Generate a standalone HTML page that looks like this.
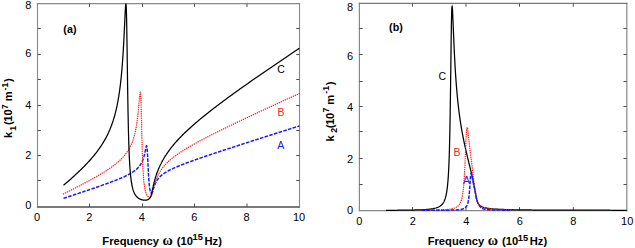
<!DOCTYPE html>
<html><head><meta charset="utf-8"><style>
html,body{margin:0;padding:0;background:#fff;}
svg{display:block;}
text{font-family:"Liberation Sans",sans-serif;}
.t{font-size:11px;fill:#000;}
.b{font-size:11.5px;font-weight:bold;fill:#000;}
.lab{font-size:10.5px;}
</style></head><body>
<svg width="635" height="248" viewBox="0 0 635 248">
<rect width="635" height="248" fill="#fff"/>
<clipPath id="cl"><rect x="36.30" y="3.60" width="264.00" height="205.30"/></clipPath>
<line x1="37.50" y1="3.05" x2="37.50" y2="207.90" stroke="#888" stroke-width="1.10"/>
<line x1="299.50" y1="3.05" x2="299.50" y2="207.90" stroke="#888" stroke-width="1.10"/>
<line x1="36.95" y1="3.70" x2="300.05" y2="3.70" stroke="#888" stroke-width="1.30"/>
<line x1="36.95" y1="207.00" x2="300.05" y2="207.00" stroke="#7a7a7a" stroke-width="1.80"/>
<line x1="89.50" y1="207.00" x2="89.50" y2="203.50" stroke="#505050" stroke-width="1.00"/>
<line x1="89.50" y1="3.70" x2="89.50" y2="7.00" stroke="#505050" stroke-width="1.00"/>
<line x1="142.50" y1="207.00" x2="142.50" y2="203.50" stroke="#505050" stroke-width="1.00"/>
<line x1="142.50" y1="3.70" x2="142.50" y2="7.00" stroke="#505050" stroke-width="1.00"/>
<line x1="194.50" y1="207.00" x2="194.50" y2="203.50" stroke="#505050" stroke-width="1.00"/>
<line x1="194.50" y1="3.70" x2="194.50" y2="7.00" stroke="#505050" stroke-width="1.00"/>
<line x1="247.00" y1="207.00" x2="247.00" y2="203.50" stroke="#505050" stroke-width="1.00"/>
<line x1="247.00" y1="3.70" x2="247.00" y2="7.00" stroke="#505050" stroke-width="1.00"/>
<line x1="37.50" y1="180.50" x2="40.80" y2="180.50" stroke="#505050" stroke-width="1.00"/>
<line x1="299.50" y1="180.50" x2="296.20" y2="180.50" stroke="#505050" stroke-width="1.00"/>
<line x1="37.50" y1="155.50" x2="40.80" y2="155.50" stroke="#505050" stroke-width="1.00"/>
<line x1="299.50" y1="155.50" x2="296.20" y2="155.50" stroke="#505050" stroke-width="1.00"/>
<line x1="37.50" y1="130.50" x2="40.80" y2="130.50" stroke="#505050" stroke-width="1.00"/>
<line x1="299.50" y1="130.50" x2="296.20" y2="130.50" stroke="#505050" stroke-width="1.00"/>
<line x1="37.50" y1="105.50" x2="40.80" y2="105.50" stroke="#505050" stroke-width="1.00"/>
<line x1="299.50" y1="105.50" x2="296.20" y2="105.50" stroke="#505050" stroke-width="1.00"/>
<line x1="37.50" y1="79.50" x2="40.80" y2="79.50" stroke="#505050" stroke-width="1.00"/>
<line x1="299.50" y1="79.50" x2="296.20" y2="79.50" stroke="#505050" stroke-width="1.00"/>
<line x1="37.50" y1="54.50" x2="40.80" y2="54.50" stroke="#505050" stroke-width="1.00"/>
<line x1="299.50" y1="54.50" x2="296.20" y2="54.50" stroke="#505050" stroke-width="1.00"/>
<line x1="37.50" y1="28.50" x2="40.80" y2="28.50" stroke="#505050" stroke-width="1.00"/>
<line x1="299.50" y1="28.50" x2="296.20" y2="28.50" stroke="#505050" stroke-width="1.00"/>
<clipPath id="cr"><rect x="358.30" y="3.60" width="269.40" height="208.75"/></clipPath>
<line x1="359.40" y1="2.75" x2="359.40" y2="211.30" stroke="#888" stroke-width="1.20"/>
<line x1="626.80" y1="2.75" x2="626.80" y2="211.30" stroke="#999" stroke-width="1.40"/>
<line x1="358.80" y1="3.40" x2="627.50" y2="3.40" stroke="#777" stroke-width="1.30"/>
<line x1="358.80" y1="210.60" x2="627.50" y2="210.60" stroke="#888" stroke-width="1.40"/>
<line x1="412.50" y1="210.60" x2="412.50" y2="207.10" stroke="#505050" stroke-width="1.00"/>
<line x1="412.50" y1="3.40" x2="412.50" y2="6.70" stroke="#505050" stroke-width="1.00"/>
<line x1="466.00" y1="210.60" x2="466.00" y2="207.10" stroke="#505050" stroke-width="1.00"/>
<line x1="466.00" y1="3.40" x2="466.00" y2="6.70" stroke="#505050" stroke-width="1.00"/>
<line x1="519.50" y1="210.60" x2="519.50" y2="207.10" stroke="#505050" stroke-width="1.00"/>
<line x1="519.50" y1="3.40" x2="519.50" y2="6.70" stroke="#505050" stroke-width="1.00"/>
<line x1="573.30" y1="210.60" x2="573.30" y2="207.10" stroke="#505050" stroke-width="1.00"/>
<line x1="573.30" y1="3.40" x2="573.30" y2="6.70" stroke="#505050" stroke-width="1.00"/>
<line x1="359.40" y1="184.50" x2="362.70" y2="184.50" stroke="#505050" stroke-width="1.00"/>
<line x1="626.80" y1="184.50" x2="623.50" y2="184.50" stroke="#505050" stroke-width="1.00"/>
<line x1="359.40" y1="158.50" x2="362.70" y2="158.50" stroke="#505050" stroke-width="1.00"/>
<line x1="626.80" y1="158.50" x2="623.50" y2="158.50" stroke="#505050" stroke-width="1.00"/>
<line x1="359.40" y1="131.50" x2="362.70" y2="131.50" stroke="#505050" stroke-width="1.00"/>
<line x1="626.80" y1="131.50" x2="623.50" y2="131.50" stroke="#505050" stroke-width="1.00"/>
<line x1="359.40" y1="106.50" x2="362.70" y2="106.50" stroke="#505050" stroke-width="1.00"/>
<line x1="626.80" y1="106.50" x2="623.50" y2="106.50" stroke="#505050" stroke-width="1.00"/>
<line x1="359.40" y1="81.50" x2="362.70" y2="81.50" stroke="#505050" stroke-width="1.00"/>
<line x1="626.80" y1="81.50" x2="623.50" y2="81.50" stroke="#505050" stroke-width="1.00"/>
<line x1="359.40" y1="54.50" x2="362.70" y2="54.50" stroke="#505050" stroke-width="1.00"/>
<line x1="626.80" y1="54.50" x2="623.50" y2="54.50" stroke="#505050" stroke-width="1.00"/>
<line x1="359.40" y1="28.50" x2="362.70" y2="28.50" stroke="#505050" stroke-width="1.00"/>
<line x1="626.80" y1="28.50" x2="623.50" y2="28.50" stroke="#505050" stroke-width="1.00"/>
<g clip-path="url(#cl)"><path d="M63.50,198.34 L64.39,198.05 L65.28,197.75 L66.16,197.46 L67.05,197.17 L67.94,196.88 L68.83,196.58 L69.72,196.29 L70.61,196.00 L71.49,195.70 L72.38,195.41 L73.27,195.12 L74.16,194.82 L75.05,194.53 L75.93,194.23 L76.82,193.94 L77.71,193.64 L78.60,193.35 L79.49,193.05 L80.37,192.75 L81.26,192.46 L82.15,192.16 L83.04,191.86 L83.93,191.56 L84.82,191.26 L85.70,190.96 L86.59,190.66 L87.48,190.36 L88.37,190.06 L89.26,189.76 L90.14,189.46 L91.03,189.16 L91.92,188.85 L92.81,188.55 L93.70,188.24 L94.58,187.94 L95.47,187.63 L96.36,187.32 L97.25,187.02 L98.14,186.71 L99.03,186.40 L99.91,186.08 L100.80,185.77 L101.69,185.46 L102.58,185.14 L103.47,184.83 L104.35,184.51 L105.24,184.19 L106.13,183.87 L107.02,183.54 L107.91,183.22 L108.79,182.89 L109.68,182.56 L110.57,182.23 L111.46,181.90 L112.35,181.56 L113.24,181.22 L114.12,180.88 L115.01,180.54 L115.90,180.19 L115.99,180.15 L116.07,180.12 L116.16,180.08 L116.25,180.05 L116.34,180.01 L116.42,179.98 L116.51,179.94 L116.60,179.91 L116.69,179.87 L116.77,179.84 L116.86,179.80 L116.95,179.77 L117.04,179.73 L117.12,179.70 L117.21,179.66 L117.30,179.63 L117.39,179.59 L117.47,179.56 L117.56,179.52 L117.65,179.49 L117.74,179.45 L117.82,179.42 L117.91,179.38 L118.00,179.35 L118.09,179.31 L118.17,179.27 L118.26,179.24 L118.35,179.20 L118.44,179.17 L118.52,179.13 L118.61,179.10 L118.70,179.06 L118.79,179.02 L118.87,178.99 L118.96,178.95 L119.05,178.92 L119.14,178.88 L119.22,178.84 L119.31,178.81 L119.40,178.77 L119.49,178.73 L119.57,178.70 L119.66,178.66 L119.75,178.62 L119.84,178.59 L119.92,178.55 L120.01,178.51 L120.10,178.48 L120.19,178.44 L120.27,178.40 L120.36,178.37 L120.45,178.33 L120.54,178.29 L120.62,178.26 L120.71,178.22 L120.80,178.18 L120.89,178.14 L120.97,178.11 L121.06,178.07 L121.15,178.03 L121.24,177.99 L121.32,177.96 L121.41,177.92 L121.50,177.88 L121.59,177.84 L121.67,177.81 L121.76,177.77 L121.85,177.73 L121.94,177.69 L122.02,177.65 L122.11,177.62 L122.20,177.58 L122.29,177.54 L122.37,177.50 L122.46,177.46 L122.55,177.42 L122.64,177.39 L122.72,177.35 L122.81,177.31 L122.90,177.27 L122.99,177.23 L123.07,177.19 L123.16,177.15 L123.25,177.11 L123.34,177.07 L123.42,177.03 L123.51,176.99 L123.60,176.96 L123.69,176.92 L123.77,176.88 L123.86,176.84 L123.95,176.80 L124.04,176.76 L124.12,176.72 L124.21,176.68 L124.30,176.64 L124.39,176.60 L124.47,176.56 L124.56,176.51 L124.65,176.47 L124.74,176.43 L124.82,176.39 L124.91,176.35 L125.00,176.31 L125.09,176.27 L125.17,176.23 L125.26,176.19 L125.35,176.15 L125.44,176.10 L125.52,176.06 L125.61,176.02 L125.70,175.98 L125.79,175.94 L125.87,175.90 L125.96,175.85 L126.05,175.81 L126.14,175.77 L126.22,175.73 L126.31,175.68 L126.40,175.64 L126.48,175.60 L126.57,175.56 L126.66,175.51 L126.75,175.47 L126.83,175.43 L126.92,175.38 L127.01,175.34 L127.10,175.30 L127.18,175.25 L127.27,175.21 L127.36,175.16 L127.45,175.12 L127.53,175.08 L127.62,175.03 L127.71,174.99 L127.80,174.94 L127.88,174.90 L127.97,174.85 L128.06,174.81 L128.15,174.76 L128.23,174.72 L128.32,174.67 L128.41,174.62 L128.50,174.58 L128.58,174.53 L128.67,174.49 L128.76,174.44 L128.85,174.39 L128.93,174.35 L129.02,174.30 L129.11,174.25 L129.20,174.20 L129.28,174.16 L129.37,174.11 L129.46,174.06 L129.55,174.01 L129.63,173.96 L129.72,173.92 L129.81,173.87 L129.90,173.82 L129.98,173.77 L130.07,173.72 L130.16,173.67 L130.25,173.62 L130.33,173.57 L130.42,173.52 L130.51,173.47 L130.60,173.42 L130.68,173.37 L130.77,173.32 L130.86,173.27 L130.95,173.22 L131.03,173.17 L131.12,173.11 L131.21,173.06 L131.30,173.01 L131.38,172.96 L131.47,172.90 L131.56,172.85 L131.65,172.80 L131.73,172.74 L131.82,172.69 L131.91,172.64 L132.00,172.58 L132.08,172.53 L132.17,172.47 L132.26,172.42 L132.35,172.36 L132.43,172.30 L132.52,172.25 L132.61,172.19 L132.70,172.13 L132.78,172.08 L132.87,172.02 L132.96,171.96 L133.05,171.90 L133.13,171.85 L133.22,171.79 L133.31,171.73 L133.40,171.67 L133.48,171.61 L133.57,171.55 L133.66,171.49 L133.75,171.43 L133.83,171.36 L133.92,171.30 L134.01,171.24 L134.10,171.18 L134.18,171.12 L134.27,171.05 L134.36,170.99 L134.45,170.92 L134.53,170.86 L134.62,170.79 L134.71,170.73 L134.80,170.66 L134.88,170.59 L134.97,170.53 L135.06,170.46 L135.15,170.39 L135.23,170.32 L135.32,170.25 L135.41,170.18 L135.50,170.11 L135.58,170.04 L135.67,169.97 L135.76,169.90 L135.85,169.83 L135.93,169.75 L136.02,169.68 L136.11,169.60 L136.20,169.53 L136.28,169.45 L136.37,169.38 L136.46,169.30 L136.55,169.22 L136.63,169.14 L136.72,169.06 L136.81,168.98 L136.89,168.90 L136.98,168.82 L137.07,168.74 L137.16,168.65 L137.24,168.57 L137.33,168.49 L137.42,168.40 L137.51,168.31 L137.59,168.22 L137.68,168.14 L137.77,168.05 L137.86,167.96 L137.94,167.86 L138.03,167.77 L138.12,167.68 L138.21,167.58 L138.29,167.49 L138.38,167.39 L138.47,167.29 L138.56,167.19 L138.64,167.09 L138.73,166.99 L138.82,166.89 L138.91,166.78 L138.99,166.68 L139.08,166.57 L139.17,166.46 L139.26,166.35 L139.34,166.24 L139.43,166.13 L139.52,166.01 L139.61,165.90 L139.69,165.78 L139.78,165.66 L139.87,165.54 L139.96,165.42 L140.04,165.29 L140.13,165.16 L140.22,165.04 L140.31,164.90 L140.39,164.77 L140.48,164.64 L140.57,164.50 L140.66,164.36 L140.74,164.22 L140.83,164.07 L140.92,163.93 L141.01,163.78 L141.09,163.63 L141.18,163.47 L141.27,163.31 L141.36,163.15 L141.44,162.99 L141.53,162.82 L141.62,162.65 L141.71,162.48 L141.79,162.31 L141.88,162.13 L141.97,161.94 L142.06,161.76 L142.14,161.56 L142.23,161.37 L142.32,161.17 L142.41,160.97 L142.49,160.76 L142.58,160.55 L142.67,160.33 L142.76,160.11 L142.84,159.88 L142.93,159.65 L143.02,159.41 L143.11,159.17 L143.19,158.92 L143.28,158.66 L143.37,158.40 L143.46,158.13 L143.54,157.86 L143.63,157.58 L143.72,157.29 L143.81,157.00 L143.89,156.69 L143.98,156.38 L144.07,156.06 L144.16,155.74 L144.24,155.40 L144.33,155.06 L144.42,154.71 L144.51,154.35 L144.59,153.98 L144.68,153.60 L144.77,153.22 L144.86,152.82 L144.94,152.42 L145.03,152.01 L145.12,151.59 L145.21,151.17 L145.29,150.74 L145.38,150.30 L145.47,149.87 L145.56,149.43 L145.64,148.99 L145.73,148.56 L145.82,148.14 L145.91,147.73 L145.99,147.34 L146.08,146.97 L146.17,146.64 L146.26,146.35 L146.34,146.11 L146.43,145.93 L146.52,145.83 L146.61,145.82 L146.69,145.92 L146.78,146.14 L146.87,146.50 L146.96,147.01 L147.04,147.68 L147.13,148.53 L147.22,149.55 L147.31,150.75 L147.39,152.12 L147.48,153.64 L147.57,155.29 L147.65,157.06 L147.74,158.90 L147.83,160.79 L147.92,162.71 L148.00,164.63 L148.09,166.52 L148.18,168.36 L148.27,170.14 L148.35,171.85 L148.44,173.48 L148.53,175.02 L148.62,176.47 L148.70,177.83 L148.79,179.11 L148.88,180.30 L148.97,181.41 L149.05,182.45 L149.14,183.41 L149.23,184.30 L149.32,185.13 L149.40,185.90 L149.49,186.61 L149.58,187.27 L149.67,187.88 L149.75,188.44 L149.84,188.97 L149.93,189.45 L150.02,189.89 L150.10,190.30 L150.19,190.68 L150.28,191.02 L150.37,191.34 L150.45,191.62 L150.54,191.88 L150.63,192.12 L150.72,192.32 L150.80,192.51 L150.89,192.67 L150.98,192.81 L151.07,192.92 L151.15,193.01 L151.24,193.09 L151.33,193.13 L151.42,193.16 L151.50,193.17 L151.59,193.15 L151.68,193.11 L151.77,193.05 L151.85,192.97 L151.94,192.86 L152.03,192.74 L152.12,192.59 L152.20,192.42 L152.29,192.24 L152.38,192.04 L152.47,191.82 L152.55,191.58 L152.64,191.33 L152.73,191.07 L152.82,190.80 L152.90,190.53 L152.99,190.24 L153.08,189.96 L153.17,189.67 L153.25,189.38 L153.34,189.09 L153.43,188.80 L153.52,188.51 L153.60,188.22 L153.69,187.94 L153.78,187.66 L153.87,187.39 L153.95,187.12 L154.04,186.85 L154.13,186.59 L154.22,186.34 L154.30,186.09 L154.39,185.84 L154.48,185.60 L154.57,185.37 L154.65,185.14 L154.74,184.91 L154.83,184.69 L154.92,184.47 L155.00,184.26 L155.09,184.05 L155.18,183.85 L155.27,183.65 L155.35,183.46 L155.44,183.27 L155.53,183.08 L155.62,182.89 L155.70,182.71 L155.79,182.54 L155.88,182.36 L155.97,182.19 L156.05,182.03 L156.14,181.86 L156.23,181.70 L156.32,181.55 L156.40,181.39 L156.49,181.24 L156.58,181.09 L156.67,180.94 L156.75,180.80 L156.84,180.66 L156.93,180.52 L157.02,180.38 L157.10,180.25 L157.19,180.11 L157.28,179.98 L157.37,179.85 L157.45,179.73 L157.54,179.60 L157.63,179.48 L157.72,179.36 L157.80,179.24 L157.89,179.12 L157.98,179.00 L158.06,178.89 L158.15,178.78 L158.24,178.67 L158.33,178.56 L158.41,178.45 L158.50,178.34 L158.59,178.24 L158.68,178.13 L158.76,178.03 L158.85,177.93 L158.94,177.83 L159.03,177.73 L159.11,177.63 L159.20,177.53 L159.29,177.44 L159.38,177.34 L159.46,177.25 L159.55,177.16 L159.64,177.07 L159.73,176.98 L159.81,176.89 L159.90,176.80 L159.99,176.71 L160.08,176.62 L160.16,176.54 L160.25,176.45 L160.34,176.37 L160.43,176.29 L160.51,176.21 L160.60,176.12 L160.69,176.04 L160.78,175.96 L160.86,175.88 L160.95,175.81 L161.04,175.73 L161.13,175.65 L161.21,175.58 L161.30,175.50 L161.39,175.42 L161.48,175.35 L161.56,175.28 L161.65,175.20 L161.74,175.13 L161.83,175.06 L161.91,174.99 L162.00,174.92 L162.09,174.85 L162.18,174.78 L162.26,174.71 L162.35,174.64 L162.44,174.57 L162.53,174.51 L162.61,174.44 L162.70,174.37 L162.79,174.31 L162.88,174.24 L162.96,174.18 L163.05,174.11 L163.14,174.05 L163.23,173.98 L163.31,173.92 L163.40,173.86 L163.49,173.79 L163.58,173.73 L163.66,173.67 L163.75,173.61 L163.84,173.55 L163.93,173.49 L164.01,173.43 L164.10,173.37 L164.19,173.31 L164.28,173.25 L164.36,173.19 L164.45,173.13 L164.54,173.08 L164.63,173.02 L164.71,172.96 L164.80,172.90 L164.89,172.85 L164.98,172.79 L165.06,172.74 L165.15,172.68 L165.24,172.62 L165.33,172.57 L165.41,172.51 L165.50,172.46 L165.59,172.41 L165.68,172.35 L165.76,172.30 L165.85,172.24 L165.94,172.19 L166.03,172.14 L166.11,172.09 L166.20,172.03 L166.29,171.98 L166.38,171.93 L166.46,171.88 L166.55,171.83 L166.64,171.77 L166.73,171.72 L166.81,171.67 L166.90,171.62 L166.99,171.57 L167.08,171.52 L167.16,171.47 L167.25,171.42 L167.34,171.37 L167.43,171.32 L167.51,171.28 L167.60,171.23 L167.69,171.18 L167.78,171.13 L167.86,171.08 L167.95,171.03 L168.04,170.99 L168.13,170.94 L168.21,170.89 L168.30,170.84 L169.40,170.26 L170.50,169.70 L171.60,169.17 L172.70,168.65 L173.80,168.14 L174.91,167.65 L176.01,167.17 L177.11,166.71 L178.21,166.25 L179.31,165.80 L180.41,165.35 L181.51,164.91 L182.61,164.48 L183.71,164.06 L184.81,163.64 L185.91,163.22 L187.01,162.81 L188.12,162.40 L189.22,162.00 L190.32,161.59 L191.42,161.20 L192.52,160.80 L193.62,160.41 L194.72,160.02 L195.82,159.63 L196.92,159.24 L198.02,158.85 L199.12,158.47 L200.22,158.09 L201.33,157.71 L202.43,157.33 L203.53,156.95 L204.63,156.58 L205.73,156.20 L206.83,155.83 L207.93,155.46 L209.03,155.09 L210.13,154.72 L211.23,154.35 L212.33,153.98 L213.43,153.61 L214.54,153.24 L215.64,152.88 L216.74,152.51 L217.84,152.15 L218.94,151.78 L220.04,151.42 L221.14,151.05 L222.24,150.69 L223.34,150.33 L224.44,149.97 L225.54,149.61 L226.64,149.25 L227.75,148.89 L228.85,148.53 L229.95,148.17 L231.05,147.81 L232.15,147.45 L233.25,147.09 L234.35,146.74 L235.45,146.38 L236.55,146.02 L237.65,145.67 L238.75,145.31 L239.85,144.95 L240.96,144.60 L242.06,144.24 L243.16,143.89 L244.26,143.53 L245.36,143.18 L246.46,142.82 L247.56,142.47 L248.66,142.11 L249.76,141.76 L250.86,141.41 L251.96,141.05 L253.06,140.70 L254.17,140.35 L255.27,139.99 L256.37,139.64 L257.47,139.29 L258.57,138.94 L259.67,138.58 L260.77,138.23 L261.87,137.88 L262.97,137.53 L264.07,137.18 L265.17,136.83 L266.27,136.48 L267.38,136.12 L268.48,135.77 L269.58,135.42 L270.68,135.07 L271.78,134.72 L272.88,134.37 L273.98,134.02 L275.08,133.67 L276.18,133.32 L277.28,132.97 L278.38,132.62 L279.48,132.27 L280.59,131.92 L281.69,131.57 L282.79,131.22 L283.89,130.87 L284.99,130.52 L286.09,130.17 L287.19,129.82 L288.29,129.48 L289.39,129.13 L290.49,128.78 L291.59,128.43 L292.69,128.08 L293.80,127.73 L294.90,127.38 L296.00,127.03 L297.10,126.69 L298.20,126.34 L299.30,125.99" stroke="#1a1aff" stroke-width="1.5" fill="none" stroke-dasharray="3.6 1.3"/>
<path d="M63.50,193.96 L64.39,193.51 L65.28,193.07 L66.16,192.62 L67.05,192.17 L67.94,191.73 L68.83,191.28 L69.72,190.83 L70.61,190.38 L71.49,189.93 L72.38,189.47 L73.27,189.02 L74.16,188.57 L75.05,188.11 L75.93,187.65 L76.82,187.20 L77.71,186.74 L78.60,186.28 L79.49,185.81 L80.37,185.35 L81.26,184.89 L82.15,184.42 L83.04,183.95 L83.93,183.48 L84.82,183.01 L85.70,182.53 L86.59,182.06 L87.48,181.58 L88.37,181.10 L89.26,180.61 L90.14,180.13 L91.03,179.64 L91.92,179.15 L92.81,178.65 L93.70,178.16 L94.58,177.65 L95.47,177.15 L96.36,176.64 L97.25,176.13 L98.14,175.61 L99.03,175.09 L99.91,174.57 L100.80,174.04 L101.69,173.50 L102.58,172.96 L103.47,172.41 L104.35,171.86 L105.24,171.29 L106.13,170.73 L107.02,170.15 L107.91,169.56 L108.79,168.97 L109.68,168.36 L110.57,167.75 L111.46,167.12 L112.35,166.48 L113.24,165.82 L114.12,165.15 L115.01,164.46 L115.90,163.76 L115.99,163.69 L116.07,163.62 L116.16,163.55 L116.25,163.47 L116.34,163.40 L116.42,163.33 L116.51,163.26 L116.60,163.19 L116.69,163.12 L116.77,163.04 L116.86,162.97 L116.95,162.90 L117.04,162.83 L117.12,162.75 L117.21,162.68 L117.30,162.60 L117.39,162.53 L117.47,162.46 L117.56,162.38 L117.65,162.31 L117.74,162.23 L117.82,162.16 L117.91,162.08 L118.00,162.01 L118.09,161.93 L118.17,161.85 L118.26,161.78 L118.35,161.70 L118.44,161.62 L118.52,161.55 L118.61,161.47 L118.70,161.39 L118.79,161.31 L118.87,161.24 L118.96,161.16 L119.05,161.08 L119.14,161.00 L119.22,160.92 L119.31,160.84 L119.40,160.76 L119.49,160.68 L119.57,160.60 L119.66,160.52 L119.75,160.44 L119.84,160.36 L119.92,160.27 L120.01,160.19 L120.10,160.11 L120.19,160.03 L120.27,159.94 L120.36,159.86 L120.45,159.78 L120.54,159.69 L120.62,159.61 L120.71,159.52 L120.80,159.44 L120.89,159.35 L120.97,159.27 L121.06,159.18 L121.15,159.10 L121.24,159.01 L121.32,158.92 L121.41,158.83 L121.50,158.75 L121.59,158.66 L121.67,158.57 L121.76,158.48 L121.85,158.39 L121.94,158.30 L122.02,158.21 L122.11,158.12 L122.20,158.03 L122.29,157.93 L122.37,157.84 L122.46,157.75 L122.55,157.66 L122.64,157.56 L122.72,157.47 L122.81,157.38 L122.90,157.28 L122.99,157.18 L123.07,157.09 L123.16,156.99 L123.25,156.90 L123.34,156.80 L123.42,156.70 L123.51,156.60 L123.60,156.50 L123.69,156.40 L123.77,156.30 L123.86,156.20 L123.95,156.10 L124.04,156.00 L124.12,155.90 L124.21,155.80 L124.30,155.69 L124.39,155.59 L124.47,155.48 L124.56,155.38 L124.65,155.27 L124.74,155.17 L124.82,155.06 L124.91,154.95 L125.00,154.84 L125.09,154.74 L125.17,154.63 L125.26,154.52 L125.35,154.41 L125.44,154.29 L125.52,154.18 L125.61,154.07 L125.70,153.95 L125.79,153.84 L125.87,153.72 L125.96,153.61 L126.05,153.49 L126.14,153.37 L126.22,153.26 L126.31,153.14 L126.40,153.02 L126.48,152.90 L126.57,152.77 L126.66,152.65 L126.75,152.53 L126.83,152.40 L126.92,152.28 L127.01,152.15 L127.10,152.03 L127.18,151.90 L127.27,151.77 L127.36,151.64 L127.45,151.51 L127.53,151.37 L127.62,151.24 L127.71,151.11 L127.80,150.97 L127.88,150.84 L127.97,150.70 L128.06,150.56 L128.15,150.42 L128.23,150.28 L128.32,150.14 L128.41,150.00 L128.50,149.85 L128.58,149.70 L128.67,149.56 L128.76,149.41 L128.85,149.26 L128.93,149.11 L129.02,148.96 L129.11,148.80 L129.20,148.65 L129.28,148.49 L129.37,148.33 L129.46,148.17 L129.55,148.01 L129.63,147.85 L129.72,147.69 L129.81,147.52 L129.90,147.35 L129.98,147.18 L130.07,147.01 L130.16,146.84 L130.25,146.67 L130.33,146.49 L130.42,146.31 L130.51,146.13 L130.60,145.95 L130.68,145.77 L130.77,145.58 L130.86,145.39 L130.95,145.20 L131.03,145.01 L131.12,144.82 L131.21,144.62 L131.30,144.42 L131.38,144.22 L131.47,144.02 L131.56,143.81 L131.65,143.60 L131.73,143.39 L131.82,143.18 L131.91,142.96 L132.00,142.74 L132.08,142.52 L132.17,142.29 L132.26,142.07 L132.35,141.83 L132.43,141.60 L132.52,141.36 L132.61,141.12 L132.70,140.88 L132.78,140.63 L132.87,140.38 L132.96,140.13 L133.05,139.87 L133.13,139.61 L133.22,139.34 L133.31,139.07 L133.40,138.80 L133.48,138.52 L133.57,138.24 L133.66,137.95 L133.75,137.66 L133.83,137.37 L133.92,137.07 L134.01,136.76 L134.10,136.45 L134.18,136.13 L134.27,135.81 L134.36,135.49 L134.45,135.16 L134.53,134.82 L134.62,134.47 L134.71,134.12 L134.80,133.77 L134.88,133.40 L134.97,133.03 L135.06,132.66 L135.15,132.27 L135.23,131.88 L135.32,131.48 L135.41,131.08 L135.50,130.66 L135.58,130.24 L135.67,129.81 L135.76,129.37 L135.85,128.92 L135.93,128.46 L136.02,127.99 L136.11,127.51 L136.20,127.02 L136.28,126.52 L136.37,126.01 L136.46,125.48 L136.55,124.95 L136.63,124.40 L136.72,123.84 L136.81,123.27 L136.89,122.68 L136.98,122.08 L137.07,121.47 L137.16,120.84 L137.24,120.19 L137.33,119.53 L137.42,118.85 L137.51,118.16 L137.59,117.45 L137.68,116.72 L137.77,115.97 L137.86,115.20 L137.94,114.42 L138.03,113.62 L138.12,112.79 L138.21,111.95 L138.29,111.09 L138.38,110.21 L138.47,109.30 L138.56,108.38 L138.64,107.45 L138.73,106.49 L138.82,105.52 L138.91,104.53 L138.99,103.54 L139.08,102.53 L139.17,101.52 L139.26,100.50 L139.34,99.50 L139.43,98.50 L139.52,97.53 L139.61,96.58 L139.69,95.68 L139.78,94.84 L139.87,94.06 L139.96,93.39 L140.04,92.82 L140.13,92.40 L140.22,92.14 L140.31,92.09 L140.39,92.26 L140.48,92.68 L140.57,93.40 L140.66,94.44 L140.74,95.81 L140.83,97.53 L140.92,99.60 L141.01,102.01 L141.09,104.75 L141.18,107.78 L141.27,111.06 L141.36,114.54 L141.44,118.17 L141.53,121.88 L141.62,125.62 L141.71,129.36 L141.79,133.03 L141.88,136.61 L141.97,140.07 L142.06,143.39 L142.14,146.56 L142.23,149.56 L142.32,152.40 L142.41,155.07 L142.49,157.58 L142.58,159.94 L142.67,162.14 L142.76,164.21 L142.84,166.14 L142.93,167.94 L143.02,169.62 L143.11,171.20 L143.19,172.67 L143.28,174.05 L143.37,175.34 L143.46,176.55 L143.54,177.68 L143.63,178.74 L143.72,179.74 L143.81,180.68 L143.89,181.56 L143.98,182.39 L144.07,183.18 L144.16,183.91 L144.24,184.61 L144.33,185.27 L144.42,185.89 L144.51,186.48 L144.59,187.04 L144.68,187.57 L144.77,188.07 L144.86,188.55 L144.94,189.00 L145.03,189.43 L145.12,189.84 L145.21,190.23 L145.29,190.60 L145.38,190.95 L145.47,191.29 L145.56,191.61 L145.64,191.92 L145.73,192.21 L145.82,192.49 L145.91,192.76 L145.99,193.01 L146.08,193.25 L146.17,193.49 L146.26,193.71 L146.34,193.92 L146.43,194.13 L146.52,194.32 L146.61,194.51 L146.69,194.69 L146.78,194.86 L146.87,195.02 L146.96,195.18 L147.04,195.33 L147.13,195.47 L147.22,195.61 L147.31,195.74 L147.39,195.86 L147.48,195.98 L147.57,196.10 L147.65,196.20 L147.74,196.31 L147.83,196.40 L147.92,196.50 L148.00,196.58 L148.09,196.67 L148.18,196.75 L148.27,196.82 L148.35,196.89 L148.44,196.95 L148.53,197.01 L148.62,197.07 L148.70,197.12 L148.79,197.17 L148.88,197.21 L148.97,197.25 L149.05,197.29 L149.14,197.32 L149.23,197.34 L149.32,197.37 L149.40,197.38 L149.49,197.39 L149.58,197.40 L149.67,197.41 L149.75,197.40 L149.84,197.40 L149.93,197.39 L150.02,197.37 L150.10,197.35 L150.19,197.32 L150.28,197.28 L150.37,197.24 L150.45,197.19 L150.54,197.14 L150.63,197.08 L150.72,197.01 L150.80,196.93 L150.89,196.85 L150.98,196.75 L151.07,196.65 L151.15,196.54 L151.24,196.41 L151.33,196.28 L151.42,196.13 L151.50,195.97 L151.59,195.79 L151.68,195.61 L151.77,195.41 L151.85,195.19 L151.94,194.96 L152.03,194.71 L152.12,194.45 L152.20,194.17 L152.29,193.88 L152.38,193.58 L152.47,193.26 L152.55,192.92 L152.64,192.58 L152.73,192.23 L152.82,191.87 L152.90,191.50 L152.99,191.13 L153.08,190.75 L153.17,190.37 L153.25,189.99 L153.34,189.61 L153.43,189.24 L153.52,188.86 L153.60,188.49 L153.69,188.12 L153.78,187.75 L153.87,187.39 L153.95,187.03 L154.04,186.68 L154.13,186.33 L154.22,185.99 L154.30,185.65 L154.39,185.32 L154.48,184.99 L154.57,184.67 L154.65,184.36 L154.74,184.05 L154.83,183.74 L154.92,183.44 L155.00,183.14 L155.09,182.85 L155.18,182.57 L155.27,182.29 L155.35,182.01 L155.44,181.74 L155.53,181.47 L155.62,181.20 L155.70,180.94 L155.79,180.69 L155.88,180.44 L155.97,180.19 L156.05,179.94 L156.14,179.70 L156.23,179.47 L156.32,179.23 L156.40,179.00 L156.49,178.77 L156.58,178.55 L156.67,178.33 L156.75,178.11 L156.84,177.90 L156.93,177.68 L157.02,177.47 L157.10,177.27 L157.19,177.06 L157.28,176.86 L157.37,176.66 L157.45,176.47 L157.54,176.27 L157.63,176.08 L157.72,175.89 L157.80,175.70 L157.89,175.52 L157.98,175.34 L158.06,175.15 L158.15,174.98 L158.24,174.80 L158.33,174.62 L158.41,174.45 L158.50,174.28 L158.59,174.11 L158.68,173.94 L158.76,173.78 L158.85,173.61 L158.94,173.45 L159.03,173.29 L159.11,173.13 L159.20,172.97 L159.29,172.82 L159.38,172.66 L159.46,172.51 L159.55,172.36 L159.64,172.21 L159.73,172.06 L159.81,171.91 L159.90,171.77 L159.99,171.62 L160.08,171.48 L160.16,171.34 L160.25,171.20 L160.34,171.06 L160.43,170.92 L160.51,170.78 L160.60,170.65 L160.69,170.51 L160.78,170.38 L160.86,170.24 L160.95,170.11 L161.04,169.98 L161.13,169.85 L161.21,169.72 L161.30,169.60 L161.39,169.47 L161.48,169.34 L161.56,169.22 L161.65,169.09 L161.74,168.97 L161.83,168.85 L161.91,168.73 L162.00,168.61 L162.09,168.49 L162.18,168.37 L162.26,168.25 L162.35,168.14 L162.44,168.02 L162.53,167.91 L162.61,167.79 L162.70,167.68 L162.79,167.56 L162.88,167.45 L162.96,167.34 L163.05,167.23 L163.14,167.12 L163.23,167.01 L163.31,166.90 L163.40,166.79 L163.49,166.69 L163.58,166.58 L163.66,166.47 L163.75,166.37 L163.84,166.26 L163.93,166.16 L164.01,166.06 L164.10,165.95 L164.19,165.85 L164.28,165.75 L164.36,165.65 L164.45,165.55 L164.54,165.45 L164.63,165.35 L164.71,165.25 L164.80,165.15 L164.89,165.05 L164.98,164.95 L165.06,164.86 L165.15,164.76 L165.24,164.66 L165.33,164.57 L165.41,164.47 L165.50,164.38 L165.59,164.29 L165.68,164.19 L165.76,164.10 L165.85,164.01 L165.94,163.92 L166.03,163.82 L166.11,163.73 L166.20,163.64 L166.29,163.55 L166.38,163.46 L166.46,163.37 L166.55,163.28 L166.64,163.19 L166.73,163.11 L166.81,163.02 L166.90,162.93 L166.99,162.84 L167.08,162.76 L167.16,162.67 L167.25,162.58 L167.34,162.50 L167.43,162.41 L167.51,162.33 L167.60,162.24 L167.69,162.16 L167.78,162.08 L167.86,161.99 L167.95,161.91 L168.04,161.83 L168.13,161.74 L168.21,161.66 L168.30,161.58 L169.40,160.58 L170.50,159.62 L171.60,158.70 L172.70,157.81 L173.80,156.95 L174.91,156.12 L176.01,155.32 L177.11,154.53 L178.21,153.77 L179.31,153.02 L180.41,152.29 L181.51,151.57 L182.61,150.87 L183.71,150.17 L184.81,149.49 L185.91,148.82 L187.01,148.16 L188.12,147.51 L189.22,146.86 L190.32,146.22 L191.42,145.59 L192.52,144.97 L193.62,144.35 L194.72,143.74 L195.82,143.13 L196.92,142.53 L198.02,141.93 L199.12,141.33 L200.22,140.74 L201.33,140.16 L202.43,139.58 L203.53,139.00 L204.63,138.42 L205.73,137.85 L206.83,137.28 L207.93,136.71 L209.03,136.15 L210.13,135.59 L211.23,135.03 L212.33,134.47 L213.43,133.92 L214.54,133.36 L215.64,132.81 L216.74,132.26 L217.84,131.71 L218.94,131.17 L220.04,130.63 L221.14,130.08 L222.24,129.54 L223.34,129.00 L224.44,128.46 L225.54,127.93 L226.64,127.39 L227.75,126.86 L228.85,126.32 L229.95,125.79 L231.05,125.26 L232.15,124.73 L233.25,124.20 L234.35,123.67 L235.45,123.15 L236.55,122.62 L237.65,122.09 L238.75,121.57 L239.85,121.05 L240.96,120.52 L242.06,120.00 L243.16,119.48 L244.26,118.96 L245.36,118.44 L246.46,117.92 L247.56,117.40 L248.66,116.88 L249.76,116.37 L250.86,115.85 L251.96,115.33 L253.06,114.82 L254.17,114.30 L255.27,113.79 L256.37,113.27 L257.47,112.76 L258.57,112.25 L259.67,111.73 L260.77,111.22 L261.87,110.71 L262.97,110.20 L264.07,109.69 L265.17,109.18 L266.27,108.67 L267.38,108.16 L268.48,107.65 L269.58,107.14 L270.68,106.63 L271.78,106.12 L272.88,105.61 L273.98,105.10 L275.08,104.60 L276.18,104.09 L277.28,103.58 L278.38,103.08 L279.48,102.57 L280.59,102.06 L281.69,101.56 L282.79,101.05 L283.89,100.55 L284.99,100.04 L286.09,99.54 L287.19,99.03 L288.29,98.53 L289.39,98.03 L290.49,97.52 L291.59,97.02 L292.69,96.52 L293.80,96.01 L294.90,95.51 L296.00,95.01 L297.10,94.51 L298.20,94.00 L299.30,93.50" stroke="#ff1f1f" stroke-width="1.35" fill="none" stroke-linecap="round" stroke-dasharray="0.2 2.0"/>
<path d="M63.50,185.35 L64.39,184.59 L65.28,183.82 L66.16,183.06 L67.05,182.29 L67.94,181.51 L68.83,180.73 L69.72,179.95 L70.61,179.16 L71.49,178.37 L72.38,177.57 L73.27,176.77 L74.16,175.96 L75.05,175.15 L75.93,174.33 L76.82,173.50 L77.71,172.66 L78.60,171.82 L79.49,170.97 L80.37,170.12 L81.26,169.25 L82.15,168.37 L83.04,167.49 L83.93,166.59 L84.82,165.69 L85.70,164.77 L86.59,163.84 L87.48,162.90 L88.37,161.94 L89.26,160.97 L90.14,159.98 L91.03,158.97 L91.92,157.95 L92.81,156.91 L93.70,155.85 L94.58,154.76 L95.47,153.65 L96.36,152.51 L97.25,151.35 L98.14,150.15 L99.03,148.92 L99.91,147.66 L100.80,146.35 L101.69,145.00 L102.58,143.61 L103.47,142.16 L104.35,140.66 L105.24,139.09 L106.13,137.45 L107.02,135.73 L107.91,133.92 L108.79,132.01 L109.68,129.99 L110.57,127.83 L111.46,125.53 L112.35,123.06 L113.24,120.39 L114.12,117.49 L115.01,114.31 L115.90,110.81 L115.99,110.44 L116.07,110.07 L116.16,109.70 L116.25,109.32 L116.34,108.94 L116.42,108.55 L116.51,108.16 L116.60,107.76 L116.69,107.36 L116.77,106.96 L116.86,106.55 L116.95,106.14 L117.04,105.72 L117.12,105.29 L117.21,104.87 L117.30,104.43 L117.39,103.99 L117.47,103.55 L117.56,103.10 L117.65,102.64 L117.74,102.18 L117.82,101.71 L117.91,101.24 L118.00,100.76 L118.09,100.27 L118.17,99.78 L118.26,99.28 L118.35,98.77 L118.44,98.25 L118.52,97.73 L118.61,97.20 L118.70,96.67 L118.79,96.12 L118.87,95.57 L118.96,95.01 L119.05,94.44 L119.14,93.87 L119.22,93.28 L119.31,92.69 L119.40,92.08 L119.49,91.47 L119.57,90.85 L119.66,90.21 L119.75,89.57 L119.84,88.92 L119.92,88.25 L120.01,87.58 L120.10,86.89 L120.19,86.19 L120.27,85.48 L120.36,84.76 L120.45,84.02 L120.54,83.27 L120.62,82.51 L120.71,81.73 L120.80,80.94 L120.89,80.13 L120.97,79.31 L121.06,78.48 L121.15,77.62 L121.24,76.76 L121.32,75.87 L121.41,74.97 L121.50,74.05 L121.59,73.11 L121.67,72.15 L121.76,71.17 L121.85,70.17 L121.94,69.15 L122.02,68.10 L122.11,67.04 L122.20,65.95 L122.29,64.84 L122.37,63.71 L122.46,62.55 L122.55,61.36 L122.64,60.15 L122.72,58.91 L122.81,57.64 L122.90,56.34 L122.99,55.01 L123.07,53.66 L123.16,52.27 L123.25,50.85 L123.34,49.40 L123.42,47.91 L123.51,46.40 L123.60,44.84 L123.69,43.26 L123.77,41.64 L123.86,39.99 L123.95,38.30 L124.04,36.58 L124.12,34.83 L124.21,33.05 L124.30,31.25 L124.39,29.41 L124.47,27.56 L124.56,25.68 L124.65,23.80 L124.74,21.91 L124.82,20.02 L124.91,18.15 L125.00,16.29 L125.09,14.48 L125.17,12.73 L125.26,11.04 L125.35,9.46 L125.44,8.00 L125.52,6.70 L125.61,5.59 L125.70,4.71 L125.79,4.10 L125.87,3.81 L125.96,3.88 L126.05,4.36 L126.14,5.30 L126.22,6.73 L126.31,8.71 L126.40,11.24 L126.48,14.34 L126.57,18.02 L126.66,22.24 L126.75,26.97 L126.83,32.16 L126.92,37.73 L127.01,43.62 L127.10,49.73 L127.18,55.99 L127.27,62.31 L127.36,68.62 L127.45,74.85 L127.53,80.95 L127.62,86.87 L127.71,92.57 L127.80,98.05 L127.88,103.27 L127.97,108.23 L128.06,112.93 L128.15,117.37 L128.23,121.55 L128.32,125.49 L128.41,129.20 L128.50,132.68 L128.58,135.94 L128.67,139.01 L128.76,141.89 L128.85,144.60 L128.93,147.14 L129.02,149.53 L129.11,151.77 L129.20,153.88 L129.28,155.87 L129.37,157.75 L129.46,159.51 L129.55,161.18 L129.63,162.75 L129.72,164.24 L129.81,165.65 L129.90,166.98 L129.98,168.24 L130.07,169.44 L130.16,170.57 L130.25,171.65 L130.33,172.68 L130.42,173.66 L130.51,174.58 L130.60,175.47 L130.68,176.31 L130.77,177.12 L130.86,177.89 L130.95,178.62 L131.03,179.32 L131.12,180.00 L131.21,180.64 L131.30,181.26 L131.38,181.85 L131.47,182.42 L131.56,182.96 L131.65,183.48 L131.73,183.98 L131.82,184.47 L131.91,184.93 L132.00,185.38 L132.08,185.81 L132.17,186.22 L132.26,186.62 L132.35,187.01 L132.43,187.38 L132.52,187.74 L132.61,188.09 L132.70,188.42 L132.78,188.75 L132.87,189.06 L132.96,189.36 L133.05,189.66 L133.13,189.94 L133.22,190.22 L133.31,190.48 L133.40,190.74 L133.48,190.99 L133.57,191.23 L133.66,191.47 L133.75,191.70 L133.83,191.92 L133.92,192.13 L134.01,192.34 L134.10,192.54 L134.18,192.74 L134.27,192.93 L134.36,193.12 L134.45,193.30 L134.53,193.48 L134.62,193.65 L134.71,193.82 L134.80,193.98 L134.88,194.14 L134.97,194.29 L135.06,194.44 L135.15,194.59 L135.23,194.73 L135.32,194.87 L135.41,195.01 L135.50,195.14 L135.58,195.27 L135.67,195.39 L135.76,195.52 L135.85,195.64 L135.93,195.75 L136.02,195.87 L136.11,195.98 L136.20,196.09 L136.28,196.19 L136.37,196.30 L136.46,196.40 L136.55,196.50 L136.63,196.60 L136.72,196.69 L136.81,196.78 L136.89,196.87 L136.98,196.96 L137.07,197.05 L137.16,197.13 L137.24,197.22 L137.33,197.30 L137.42,197.38 L137.51,197.45 L137.59,197.53 L137.68,197.60 L137.77,197.68 L137.86,197.75 L137.94,197.82 L138.03,197.88 L138.12,197.95 L138.21,198.01 L138.29,198.08 L138.38,198.14 L138.47,198.20 L138.56,198.26 L138.64,198.32 L138.73,198.38 L138.82,198.43 L138.91,198.49 L138.99,198.54 L139.08,198.59 L139.17,198.64 L139.26,198.69 L139.34,198.74 L139.43,198.79 L139.52,198.84 L139.61,198.88 L139.69,198.93 L139.78,198.97 L139.87,199.02 L139.96,199.06 L140.04,199.10 L140.13,199.14 L140.22,199.18 L140.31,199.22 L140.39,199.26 L140.48,199.29 L140.57,199.33 L140.66,199.36 L140.74,199.40 L140.83,199.43 L140.92,199.46 L141.01,199.50 L141.09,199.53 L141.18,199.56 L141.27,199.59 L141.36,199.62 L141.44,199.64 L141.53,199.67 L141.62,199.70 L141.71,199.72 L141.79,199.75 L141.88,199.77 L141.97,199.80 L142.06,199.82 L142.14,199.84 L142.23,199.86 L142.32,199.88 L142.41,199.90 L142.49,199.92 L142.58,199.94 L142.67,199.96 L142.76,199.98 L142.84,200.00 L142.93,200.01 L143.02,200.03 L143.11,200.04 L143.19,200.06 L143.28,200.07 L143.37,200.08 L143.46,200.10 L143.54,200.11 L143.63,200.12 L143.72,200.13 L143.81,200.14 L143.89,200.15 L143.98,200.16 L144.07,200.16 L144.16,200.17 L144.24,200.18 L144.33,200.18 L144.42,200.19 L144.51,200.19 L144.59,200.20 L144.68,200.20 L144.77,200.20 L144.86,200.20 L144.94,200.20 L145.03,200.20 L145.12,200.20 L145.21,200.20 L145.29,200.20 L145.38,200.19 L145.47,200.19 L145.56,200.18 L145.64,200.18 L145.73,200.17 L145.82,200.16 L145.91,200.16 L145.99,200.15 L146.08,200.14 L146.17,200.12 L146.26,200.11 L146.34,200.10 L146.43,200.08 L146.52,200.07 L146.61,200.05 L146.69,200.03 L146.78,200.02 L146.87,200.00 L146.96,199.97 L147.04,199.95 L147.13,199.93 L147.22,199.90 L147.31,199.87 L147.39,199.85 L147.48,199.82 L147.57,199.78 L147.65,199.75 L147.74,199.72 L147.83,199.68 L147.92,199.64 L148.00,199.60 L148.09,199.56 L148.18,199.51 L148.27,199.46 L148.35,199.41 L148.44,199.36 L148.53,199.30 L148.62,199.25 L148.70,199.19 L148.79,199.12 L148.88,199.05 L148.97,198.98 L149.05,198.91 L149.14,198.83 L149.23,198.75 L149.32,198.66 L149.40,198.57 L149.49,198.47 L149.58,198.37 L149.67,198.26 L149.75,198.15 L149.84,198.02 L149.93,197.90 L150.02,197.76 L150.10,197.62 L150.19,197.47 L150.28,197.31 L150.37,197.14 L150.45,196.96 L150.54,196.77 L150.63,196.57 L150.72,196.36 L150.80,196.14 L150.89,195.90 L150.98,195.65 L151.07,195.39 L151.15,195.11 L151.24,194.82 L151.33,194.52 L151.42,194.20 L151.50,193.87 L151.59,193.52 L151.68,193.17 L151.77,192.80 L151.85,192.43 L151.94,192.04 L152.03,191.65 L152.12,191.25 L152.20,190.85 L152.29,190.44 L152.38,190.03 L152.47,189.62 L152.55,189.21 L152.64,188.80 L152.73,188.39 L152.82,187.98 L152.90,187.57 L152.99,187.17 L153.08,186.77 L153.17,186.38 L153.25,185.99 L153.34,185.60 L153.43,185.22 L153.52,184.84 L153.60,184.46 L153.69,184.09 L153.78,183.73 L153.87,183.37 L153.95,183.01 L154.04,182.66 L154.13,182.31 L154.22,181.97 L154.30,181.63 L154.39,181.29 L154.48,180.96 L154.57,180.64 L154.65,180.31 L154.74,179.99 L154.83,179.68 L154.92,179.37 L155.00,179.06 L155.09,178.76 L155.18,178.46 L155.27,178.16 L155.35,177.87 L155.44,177.58 L155.53,177.29 L155.62,177.00 L155.70,176.72 L155.79,176.45 L155.88,176.17 L155.97,175.90 L156.05,175.63 L156.14,175.36 L156.23,175.10 L156.32,174.84 L156.40,174.58 L156.49,174.32 L156.58,174.07 L156.67,173.82 L156.75,173.57 L156.84,173.32 L156.93,173.08 L157.02,172.84 L157.10,172.60 L157.19,172.36 L157.28,172.12 L157.37,171.89 L157.45,171.66 L157.54,171.43 L157.63,171.20 L157.72,170.97 L157.80,170.75 L157.89,170.53 L157.98,170.30 L158.06,170.09 L158.15,169.87 L158.24,169.65 L158.33,169.44 L158.41,169.23 L158.50,169.02 L158.59,168.81 L158.68,168.60 L158.76,168.39 L158.85,168.19 L158.94,167.99 L159.03,167.79 L159.11,167.59 L159.20,167.39 L159.29,167.19 L159.38,166.99 L159.46,166.80 L159.55,166.61 L159.64,166.41 L159.73,166.22 L159.81,166.03 L159.90,165.84 L159.99,165.66 L160.08,165.47 L160.16,165.29 L160.25,165.10 L160.34,164.92 L160.43,164.74 L160.51,164.56 L160.60,164.38 L160.69,164.20 L160.78,164.02 L160.86,163.85 L160.95,163.67 L161.04,163.50 L161.13,163.32 L161.21,163.15 L161.30,162.98 L161.39,162.81 L161.48,162.64 L161.56,162.47 L161.65,162.31 L161.74,162.14 L161.83,161.97 L161.91,161.81 L162.00,161.64 L162.09,161.48 L162.18,161.32 L162.26,161.16 L162.35,161.00 L162.44,160.84 L162.53,160.68 L162.61,160.52 L162.70,160.36 L162.79,160.21 L162.88,160.05 L162.96,159.89 L163.05,159.74 L163.14,159.59 L163.23,159.43 L163.31,159.28 L163.40,159.13 L163.49,158.98 L163.58,158.83 L163.66,158.68 L163.75,158.53 L163.84,158.38 L163.93,158.23 L164.01,158.09 L164.10,157.94 L164.19,157.79 L164.28,157.65 L164.36,157.51 L164.45,157.36 L164.54,157.22 L164.63,157.08 L164.71,156.93 L164.80,156.79 L164.89,156.65 L164.98,156.51 L165.06,156.37 L165.15,156.23 L165.24,156.09 L165.33,155.96 L165.41,155.82 L165.50,155.68 L165.59,155.54 L165.68,155.41 L165.76,155.27 L165.85,155.14 L165.94,155.00 L166.03,154.87 L166.11,154.74 L166.20,154.60 L166.29,154.47 L166.38,154.34 L166.46,154.21 L166.55,154.08 L166.64,153.95 L166.73,153.82 L166.81,153.69 L166.90,153.56 L166.99,153.43 L167.08,153.30 L167.16,153.17 L167.25,153.04 L167.34,152.92 L167.43,152.79 L167.51,152.66 L167.60,152.54 L167.69,152.41 L167.78,152.29 L167.86,152.16 L167.95,152.04 L168.04,151.92 L168.13,151.79 L168.21,151.67 L168.30,151.55 L169.40,150.04 L170.50,148.58 L171.60,147.18 L172.70,145.81 L173.80,144.49 L174.91,143.20 L176.01,141.95 L177.11,140.72 L178.21,139.52 L179.31,138.35 L180.41,137.20 L181.51,136.08 L182.61,134.97 L183.71,133.88 L184.81,132.81 L185.91,131.76 L187.01,130.72 L188.12,129.69 L189.22,128.68 L190.32,127.68 L191.42,126.69 L192.52,125.71 L193.62,124.75 L194.72,123.79 L195.82,122.84 L196.92,121.90 L198.02,120.97 L199.12,120.05 L200.22,119.13 L201.33,118.22 L202.43,117.32 L203.53,116.42 L204.63,115.53 L205.73,114.65 L206.83,113.77 L207.93,112.90 L209.03,112.03 L210.13,111.16 L211.23,110.30 L212.33,109.45 L213.43,108.60 L214.54,107.75 L215.64,106.91 L216.74,106.07 L217.84,105.24 L218.94,104.40 L220.04,103.58 L221.14,102.75 L222.24,101.93 L223.34,101.11 L224.44,100.29 L225.54,99.48 L226.64,98.67 L227.75,97.86 L228.85,97.05 L229.95,96.25 L231.05,95.45 L232.15,94.65 L233.25,93.85 L234.35,93.06 L235.45,92.27 L236.55,91.47 L237.65,90.69 L238.75,89.90 L239.85,89.11 L240.96,88.33 L242.06,87.55 L243.16,86.77 L244.26,85.99 L245.36,85.21 L246.46,84.44 L247.56,83.66 L248.66,82.89 L249.76,82.12 L250.86,81.35 L251.96,80.58 L253.06,79.81 L254.17,79.04 L255.27,78.28 L256.37,77.51 L257.47,76.75 L258.57,75.99 L259.67,75.23 L260.77,74.47 L261.87,73.71 L262.97,72.95 L264.07,72.19 L265.17,71.44 L266.27,70.68 L267.38,69.93 L268.48,69.18 L269.58,68.42 L270.68,67.67 L271.78,66.92 L272.88,66.17 L273.98,65.42 L275.08,64.67 L276.18,63.93 L277.28,63.18 L278.38,62.43 L279.48,61.69 L280.59,60.94 L281.69,60.20 L282.79,59.46 L283.89,58.71 L284.99,57.97 L286.09,57.23 L287.19,56.49 L288.29,55.75 L289.39,55.01 L290.49,54.27 L291.59,53.53 L292.69,52.79 L293.80,52.05 L294.90,51.32 L296.00,50.58 L297.10,49.84 L298.20,49.11 L299.30,48.37" stroke="#000" stroke-width="1.25" fill="none"/></g>
<g clip-path="url(#cr)"><path d="M386.04,210.31 L386.95,210.30 L387.85,210.30 L388.76,210.30 L389.67,210.29 L390.57,210.29 L391.48,210.28 L392.39,210.28 L393.29,210.27 L394.20,210.27 L395.10,210.26 L396.01,210.25 L396.92,210.25 L397.82,210.24 L398.73,210.23 L399.64,210.23 L400.54,210.22 L401.45,210.21 L402.36,210.20 L403.26,210.19 L404.17,210.18 L405.08,210.17 L405.98,210.16 L406.89,210.15 L407.79,210.13 L408.70,210.12 L409.61,210.10 L410.51,210.09 L411.42,210.07 L412.33,210.05 L413.23,210.03 L414.14,210.01 L415.05,209.99 L415.95,209.96 L416.86,209.94 L417.77,209.91 L418.67,209.88 L419.58,209.84 L420.48,209.81 L421.39,209.76 L422.30,209.72 L423.20,209.67 L424.11,209.62 L425.02,209.56 L425.92,209.50 L426.83,209.43 L427.74,209.35 L428.64,209.26 L429.55,209.17 L430.46,209.06 L431.36,208.93 L432.27,208.79 L433.17,208.64 L434.08,208.45 L434.99,208.24 L435.89,208.00 L436.80,207.71 L437.71,207.38 L438.61,206.97 L439.52,206.48 L439.61,206.43 L439.70,206.38 L439.79,206.32 L439.88,206.26 L439.97,206.21 L440.06,206.15 L440.14,206.09 L440.23,206.03 L440.32,205.96 L440.41,205.90 L440.50,205.83 L440.59,205.77 L440.68,205.70 L440.77,205.63 L440.86,205.56 L440.95,205.48 L441.04,205.41 L441.13,205.33 L441.22,205.25 L441.31,205.17 L441.39,205.09 L441.48,205.01 L441.57,204.92 L441.66,204.83 L441.75,204.74 L441.84,204.65 L441.93,204.56 L442.02,204.46 L442.11,204.36 L442.20,204.26 L442.29,204.16 L442.38,204.05 L442.47,203.94 L442.56,203.83 L442.64,203.71 L442.73,203.59 L442.82,203.47 L442.91,203.35 L443.00,203.22 L443.09,203.08 L443.18,202.95 L443.27,202.81 L443.36,202.67 L443.45,202.52 L443.54,202.37 L443.63,202.21 L443.72,202.05 L443.81,201.88 L443.89,201.71 L443.98,201.54 L444.07,201.36 L444.16,201.17 L444.25,200.98 L444.34,200.78 L444.43,200.57 L444.52,200.36 L444.61,200.14 L444.70,199.91 L444.79,199.68 L444.88,199.44 L444.97,199.19 L445.06,198.93 L445.14,198.66 L445.23,198.38 L445.32,198.09 L445.41,197.79 L445.50,197.48 L445.59,197.16 L445.68,196.82 L445.77,196.48 L445.86,196.12 L445.95,195.74 L446.04,195.35 L446.13,194.94 L446.22,194.52 L446.31,194.08 L446.39,193.62 L446.48,193.14 L446.57,192.63 L446.66,192.11 L446.75,191.56 L446.84,190.99 L446.93,190.39 L447.02,189.76 L447.11,189.10 L447.20,188.40 L447.29,187.68 L447.38,186.91 L447.47,186.11 L447.56,185.26 L447.64,184.37 L447.73,183.43 L447.82,182.44 L447.91,181.39 L448.00,180.29 L448.09,179.11 L448.18,177.87 L448.27,176.56 L448.36,175.16 L448.45,173.68 L448.54,172.10 L448.63,170.42 L448.72,168.63 L448.81,166.73 L448.89,164.69 L448.98,162.52 L449.07,160.19 L449.16,157.71 L449.25,155.04 L449.34,152.19 L449.43,149.13 L449.52,145.86 L449.61,142.34 L449.70,138.57 L449.79,134.53 L449.88,130.21 L449.97,125.59 L450.06,120.65 L450.14,115.40 L450.23,109.82 L450.32,103.92 L450.41,97.71 L450.50,91.22 L450.59,84.48 L450.68,77.54 L450.77,70.46 L450.86,63.33 L450.95,56.24 L451.04,49.30 L451.13,42.61 L451.22,36.28 L451.31,30.43 L451.39,25.13 L451.48,20.46 L451.57,16.45 L451.66,13.15 L451.75,10.53 L451.84,8.59 L451.93,7.28 L452.02,6.55 L452.11,6.34 L452.20,6.60 L452.29,7.25 L452.38,8.25 L452.47,9.53 L452.56,11.05 L452.64,12.76 L452.73,14.63 L452.82,16.60 L452.91,18.67 L453.00,20.80 L453.09,22.98 L453.18,25.18 L453.27,27.39 L453.36,29.60 L453.45,31.80 L453.54,33.98 L453.63,36.14 L453.72,38.27 L453.81,40.37 L453.89,42.44 L453.98,44.47 L454.07,46.45 L454.16,48.41 L454.25,50.32 L454.34,52.19 L454.43,54.02 L454.52,55.81 L454.61,57.56 L454.70,59.27 L454.79,60.95 L454.88,62.59 L454.97,64.19 L455.06,65.76 L455.14,67.29 L455.23,68.79 L455.32,70.25 L455.41,71.69 L455.50,73.09 L455.59,74.47 L455.68,75.81 L455.77,77.13 L455.86,78.42 L455.95,79.68 L456.04,80.92 L456.13,82.13 L456.22,83.32 L456.31,84.48 L456.39,85.63 L456.48,86.75 L456.57,87.85 L456.66,88.93 L456.75,89.98 L456.84,91.02 L456.93,92.05 L457.02,93.05 L457.11,94.04 L457.20,95.00 L457.29,95.96 L457.38,96.89 L457.47,97.81 L457.55,98.72 L457.64,99.61 L457.73,100.49 L457.82,101.35 L457.91,102.20 L458.00,103.04 L458.09,103.86 L458.18,104.67 L458.27,105.47 L458.36,106.26 L458.45,107.03 L458.54,107.80 L458.63,108.56 L458.72,109.30 L458.80,110.03 L458.89,110.76 L458.98,111.47 L459.07,112.18 L459.16,112.88 L459.25,113.56 L459.34,114.24 L459.43,114.91 L459.52,115.58 L459.61,116.23 L459.70,116.88 L459.79,117.52 L459.88,118.15 L459.97,118.77 L460.05,119.39 L460.14,120.00 L460.23,120.61 L460.32,121.20 L460.41,121.80 L460.50,122.38 L460.59,122.96 L460.68,123.53 L460.77,124.10 L460.86,124.66 L460.95,125.22 L461.04,125.77 L461.13,126.32 L461.22,126.86 L461.30,127.39 L461.39,127.92 L461.48,128.45 L461.57,128.97 L461.66,129.49 L461.75,130.00 L461.84,130.51 L461.93,131.01 L462.02,131.51 L462.11,132.00 L462.20,132.50 L462.29,132.98 L462.38,133.47 L462.47,133.95 L462.55,134.42 L462.64,134.90 L462.73,135.37 L462.82,135.83 L462.91,136.30 L463.00,136.76 L463.09,137.21 L463.18,137.67 L463.27,138.12 L463.36,138.56 L463.45,139.01 L463.54,139.45 L463.63,139.89 L463.72,140.33 L463.80,140.76 L463.89,141.19 L463.98,141.62 L464.07,142.05 L464.16,142.47 L464.25,142.89 L464.34,143.31 L464.43,143.73 L464.52,144.15 L464.61,144.56 L464.70,144.97 L464.79,145.38 L464.88,145.79 L464.97,146.19 L465.05,146.59 L465.14,147.00 L465.23,147.40 L465.32,147.79 L465.41,148.19 L465.50,148.59 L465.59,148.98 L465.68,149.37 L465.77,149.76 L465.86,150.15 L465.95,150.54 L466.04,150.92 L466.13,151.31 L466.22,151.69 L466.30,152.08 L466.39,152.46 L466.48,152.84 L466.57,153.22 L466.66,153.59 L466.75,153.97 L466.84,154.35 L466.93,154.72 L467.02,155.10 L467.11,155.47 L467.20,155.84 L467.29,156.22 L467.38,156.59 L467.47,156.96 L467.55,157.33 L467.64,157.70 L467.73,158.06 L467.82,158.43 L467.91,158.80 L468.00,159.17 L468.09,159.53 L468.18,159.90 L468.27,160.27 L468.36,160.63 L468.45,161.00 L468.54,161.36 L468.63,161.73 L468.72,162.09 L468.80,162.46 L468.89,162.82 L468.98,163.18 L469.07,163.55 L469.16,163.91 L469.25,164.28 L469.34,164.64 L469.43,165.01 L469.52,165.37 L469.61,165.74 L469.70,166.10 L469.79,166.47 L469.88,166.83 L469.97,167.20 L470.05,167.57 L470.14,167.94 L470.23,168.30 L470.32,168.67 L470.41,169.04 L470.50,169.41 L470.59,169.78 L470.68,170.15 L470.77,170.53 L470.86,170.90 L470.95,171.27 L471.04,171.65 L471.13,172.03 L471.22,172.40 L471.30,172.78 L471.39,173.16 L471.48,173.54 L471.57,173.93 L471.66,174.31 L471.75,174.70 L471.84,175.08 L471.93,175.47 L472.02,175.86 L472.11,176.26 L472.20,176.65 L472.29,177.05 L472.38,177.45 L472.47,177.85 L472.55,178.25 L472.64,178.65 L472.73,179.06 L472.82,179.47 L472.91,179.88 L473.00,180.30 L473.09,180.71 L473.18,181.14 L473.27,181.56 L473.36,181.99 L473.45,182.41 L473.54,182.85 L473.63,183.28 L473.72,183.72 L473.80,184.17 L473.89,184.61 L473.98,185.06 L474.07,185.52 L474.16,185.97 L474.25,186.44 L474.34,186.90 L474.43,187.37 L474.52,187.85 L474.61,188.32 L474.70,188.80 L474.79,189.29 L474.88,189.78 L474.97,190.27 L475.05,190.76 L475.14,191.26 L475.23,191.76 L475.32,192.26 L475.41,192.76 L475.50,193.26 L475.59,193.76 L475.68,194.26 L475.77,194.76 L475.86,195.25 L475.95,195.73 L476.04,196.20 L476.13,196.67 L476.21,197.13 L476.30,197.57 L476.39,198.00 L476.48,198.41 L476.57,198.81 L476.66,199.19 L476.75,199.56 L476.84,199.91 L476.93,200.24 L477.02,200.56 L477.11,200.86 L477.20,201.14 L477.29,201.41 L477.38,201.67 L477.46,201.91 L477.55,202.14 L477.64,202.36 L477.73,202.56 L477.82,202.76 L477.91,202.95 L478.00,203.13 L478.09,203.29 L478.18,203.46 L478.27,203.61 L478.36,203.76 L478.45,203.90 L478.54,204.03 L478.63,204.16 L478.71,204.28 L478.80,204.40 L478.89,204.51 L478.98,204.62 L479.07,204.73 L479.16,204.83 L479.25,204.92 L479.34,205.02 L479.43,205.11 L479.52,205.20 L479.61,205.28 L479.70,205.36 L479.79,205.44 L479.88,205.52 L479.96,205.59 L480.05,205.66 L480.14,205.73 L480.23,205.80 L480.32,205.86 L480.41,205.93 L480.50,205.99 L480.59,206.05 L480.68,206.10 L480.77,206.16 L480.86,206.22 L480.95,206.27 L481.04,206.32 L481.13,206.37 L481.21,206.42 L481.30,206.47 L481.39,206.52 L481.48,206.56 L481.57,206.61 L481.66,206.65 L481.75,206.70 L481.84,206.74 L481.93,206.78 L482.02,206.82 L482.11,206.86 L482.20,206.90 L482.29,206.93 L482.38,206.97 L482.46,207.01 L482.55,207.04 L482.64,207.08 L482.73,207.11 L482.82,207.14 L482.91,207.18 L483.00,207.21 L483.09,207.24 L483.18,207.27 L483.27,207.30 L483.36,207.33 L483.45,207.36 L483.54,207.39 L483.63,207.41 L483.71,207.44 L483.80,207.47 L483.89,207.50 L483.98,207.52 L484.07,207.55 L484.16,207.57 L484.25,207.60 L484.34,207.62 L484.43,207.65 L484.52,207.67 L484.61,207.69 L484.70,207.72 L484.79,207.74 L484.88,207.76 L484.96,207.78 L485.05,207.80 L485.14,207.82 L485.23,207.85 L485.32,207.87 L485.41,207.89 L485.50,207.91 L485.59,207.93 L485.68,207.94 L485.77,207.96 L485.86,207.98 L485.95,208.00 L486.04,208.02 L486.13,208.04 L486.21,208.05 L486.30,208.07 L486.39,208.09 L486.48,208.11 L486.57,208.12 L486.66,208.14 L486.75,208.16 L486.84,208.17 L486.93,208.19 L487.02,208.20 L487.11,208.22 L487.20,208.23 L487.29,208.25 L487.38,208.26 L487.46,208.28 L487.55,208.29 L487.64,208.31 L487.73,208.32 L487.82,208.34 L487.91,208.35 L488.00,208.36 L488.09,208.38 L488.18,208.39 L488.27,208.40 L488.36,208.42 L488.45,208.43 L488.54,208.44 L488.63,208.45 L488.71,208.47 L488.80,208.48 L488.89,208.49 L488.98,208.50 L489.07,208.51 L489.16,208.53 L489.25,208.54 L489.34,208.55 L489.43,208.56 L489.52,208.57 L489.61,208.58 L489.70,208.59 L489.79,208.60 L489.88,208.62 L489.96,208.63 L490.05,208.64 L490.14,208.65 L490.23,208.66 L490.32,208.67 L490.41,208.68 L490.50,208.69 L490.59,208.70 L490.68,208.71 L490.77,208.72 L490.86,208.73 L490.95,208.74 L491.04,208.74 L491.13,208.75 L491.21,208.76 L491.30,208.77 L491.39,208.78 L491.48,208.79 L491.57,208.80 L491.66,208.81 L491.75,208.82 L491.84,208.82 L491.93,208.83 L492.02,208.84 L492.11,208.85 L492.20,208.86 L492.29,208.87 L492.38,208.87 L492.46,208.88 L492.55,208.89 L492.64,208.90 L492.73,208.91 L492.82,208.91 L492.91,208.92 L493.00,208.93 L494.12,209.02 L495.25,209.10 L496.37,209.17 L497.49,209.24 L498.62,209.30 L499.74,209.35 L500.86,209.40 L501.99,209.45 L503.11,209.49 L504.24,209.53 L505.36,209.56 L506.48,209.60 L507.61,209.63 L508.73,209.66 L509.85,209.68 L510.98,209.71 L512.10,209.73 L513.22,209.76 L514.35,209.78 L515.47,209.80 L516.59,209.82 L517.72,209.83 L518.84,209.85 L519.96,209.87 L521.09,209.88 L522.21,209.90 L523.34,209.91 L524.46,209.92 L525.58,209.94 L526.71,209.95 L527.83,209.96 L528.95,209.97 L530.08,209.98 L531.20,209.99 L532.32,210.00 L533.45,210.01 L534.57,210.02 L535.69,210.02 L536.82,210.03 L537.94,210.04 L539.06,210.05 L540.19,210.05 L541.31,210.06 L542.44,210.07 L543.56,210.07 L544.68,210.08 L545.81,210.09 L546.93,210.09 L548.05,210.10 L549.18,210.10 L550.30,210.11 L551.42,210.11 L552.55,210.12 L553.67,210.12 L554.79,210.13 L555.92,210.13 L557.04,210.13 L558.16,210.14 L559.29,210.14 L560.41,210.15 L561.54,210.15 L562.66,210.15 L563.78,210.16 L564.91,210.16 L566.03,210.16 L567.15,210.17 L568.28,210.17 L569.40,210.17 L570.52,210.18 L571.65,210.18 L572.77,210.18 L573.89,210.18 L575.02,210.19 L576.14,210.19 L577.26,210.19 L578.39,210.19 L579.51,210.20 L580.64,210.20 L581.76,210.20 L582.88,210.20 L584.01,210.21 L585.13,210.21 L586.25,210.21 L587.38,210.21 L588.50,210.21 L589.62,210.22 L590.75,210.22 L591.87,210.22 L592.99,210.22 L594.12,210.22 L595.24,210.23 L596.36,210.23 L597.49,210.23 L598.61,210.23 L599.74,210.23 L600.86,210.23 L601.98,210.23 L603.11,210.24 L604.23,210.24 L605.35,210.24 L606.48,210.24 L607.60,210.24 L608.72,210.24 L609.85,210.24 L610.97,210.25 L612.09,210.25 L613.22,210.25 L614.34,210.25 L615.46,210.25 L616.59,210.25 L617.71,210.25 L618.84,210.25 L619.96,210.26 L621.08,210.26 L622.21,210.26 L623.33,210.26 L624.45,210.26 L625.58,210.26 L626.70,210.26" stroke="#000" stroke-width="1.25" fill="none"/>
<path d="M421.39,210.23 L422.30,210.22 L423.20,210.21 L424.11,210.21 L425.02,210.20 L425.92,210.19 L426.83,210.18 L427.74,210.17 L428.64,210.16 L429.55,210.14 L430.46,210.13 L431.36,210.12 L432.27,210.10 L433.17,210.08 L434.08,210.07 L434.99,210.05 L435.89,210.02 L436.80,210.00 L437.71,209.98 L438.61,209.95 L439.52,209.92 L439.61,209.91 L439.70,209.91 L439.79,209.91 L439.88,209.90 L439.97,209.90 L440.06,209.90 L440.14,209.89 L440.23,209.89 L440.32,209.89 L440.41,209.88 L440.50,209.88 L440.59,209.87 L440.68,209.87 L440.77,209.87 L440.86,209.86 L440.95,209.86 L441.04,209.86 L441.13,209.85 L441.22,209.85 L441.31,209.84 L441.39,209.84 L441.48,209.84 L441.57,209.83 L441.66,209.83 L441.75,209.82 L441.84,209.82 L441.93,209.81 L442.02,209.81 L442.11,209.81 L442.20,209.80 L442.29,209.80 L442.38,209.79 L442.47,209.79 L442.56,209.78 L442.64,209.78 L442.73,209.77 L442.82,209.77 L442.91,209.77 L443.00,209.76 L443.09,209.76 L443.18,209.75 L443.27,209.75 L443.36,209.74 L443.45,209.74 L443.54,209.73 L443.63,209.72 L443.72,209.72 L443.81,209.71 L443.89,209.71 L443.98,209.70 L444.07,209.70 L444.16,209.69 L444.25,209.69 L444.34,209.68 L444.43,209.67 L444.52,209.67 L444.61,209.66 L444.70,209.66 L444.79,209.65 L444.88,209.64 L444.97,209.64 L445.06,209.63 L445.14,209.63 L445.23,209.62 L445.32,209.61 L445.41,209.61 L445.50,209.60 L445.59,209.59 L445.68,209.59 L445.77,209.58 L445.86,209.57 L445.95,209.56 L446.04,209.56 L446.13,209.55 L446.22,209.54 L446.31,209.54 L446.39,209.53 L446.48,209.52 L446.57,209.51 L446.66,209.50 L446.75,209.50 L446.84,209.49 L446.93,209.48 L447.02,209.47 L447.11,209.46 L447.20,209.45 L447.29,209.45 L447.38,209.44 L447.47,209.43 L447.56,209.42 L447.64,209.41 L447.73,209.40 L447.82,209.39 L447.91,209.38 L448.00,209.37 L448.09,209.36 L448.18,209.35 L448.27,209.34 L448.36,209.33 L448.45,209.32 L448.54,209.31 L448.63,209.30 L448.72,209.29 L448.81,209.28 L448.89,209.27 L448.98,209.26 L449.07,209.25 L449.16,209.23 L449.25,209.22 L449.34,209.21 L449.43,209.20 L449.52,209.19 L449.61,209.17 L449.70,209.16 L449.79,209.15 L449.88,209.14 L449.97,209.12 L450.06,209.11 L450.14,209.10 L450.23,209.08 L450.32,209.07 L450.41,209.05 L450.50,209.04 L450.59,209.02 L450.68,209.01 L450.77,208.99 L450.86,208.98 L450.95,208.96 L451.04,208.95 L451.13,208.93 L451.22,208.91 L451.31,208.90 L451.39,208.88 L451.48,208.86 L451.57,208.84 L451.66,208.83 L451.75,208.81 L451.84,208.79 L451.93,208.77 L452.02,208.75 L452.11,208.73 L452.20,208.71 L452.29,208.69 L452.38,208.67 L452.47,208.65 L452.56,208.63 L452.64,208.61 L452.73,208.59 L452.82,208.56 L452.91,208.54 L453.00,208.52 L453.09,208.49 L453.18,208.47 L453.27,208.44 L453.36,208.42 L453.45,208.39 L453.54,208.37 L453.63,208.34 L453.72,208.31 L453.81,208.29 L453.89,208.26 L453.98,208.23 L454.07,208.20 L454.16,208.17 L454.25,208.14 L454.34,208.11 L454.43,208.08 L454.52,208.05 L454.61,208.01 L454.70,207.98 L454.79,207.94 L454.88,207.91 L454.97,207.87 L455.06,207.84 L455.14,207.80 L455.23,207.76 L455.32,207.72 L455.41,207.68 L455.50,207.64 L455.59,207.60 L455.68,207.56 L455.77,207.51 L455.86,207.47 L455.95,207.42 L456.04,207.38 L456.13,207.33 L456.22,207.28 L456.31,207.23 L456.39,207.18 L456.48,207.13 L456.57,207.07 L456.66,207.02 L456.75,206.96 L456.84,206.90 L456.93,206.85 L457.02,206.78 L457.11,206.72 L457.20,206.66 L457.29,206.59 L457.38,206.53 L457.47,206.46 L457.55,206.39 L457.64,206.31 L457.73,206.24 L457.82,206.16 L457.91,206.08 L458.00,206.00 L458.09,205.92 L458.18,205.83 L458.27,205.75 L458.36,205.66 L458.45,205.56 L458.54,205.47 L458.63,205.37 L458.72,205.27 L458.80,205.16 L458.89,205.05 L458.98,204.94 L459.07,204.83 L459.16,204.71 L459.25,204.59 L459.34,204.46 L459.43,204.33 L459.52,204.20 L459.61,204.06 L459.70,203.92 L459.79,203.77 L459.88,203.61 L459.97,203.46 L460.05,203.29 L460.14,203.12 L460.23,202.95 L460.32,202.76 L460.41,202.58 L460.50,202.38 L460.59,202.18 L460.68,201.97 L460.77,201.75 L460.86,201.52 L460.95,201.28 L461.04,201.04 L461.13,200.78 L461.22,200.52 L461.30,200.24 L461.39,199.95 L461.48,199.65 L461.57,199.34 L461.66,199.01 L461.75,198.67 L461.84,198.32 L461.93,197.95 L462.02,197.56 L462.11,197.15 L462.20,196.73 L462.29,196.28 L462.38,195.82 L462.47,195.33 L462.55,194.82 L462.64,194.28 L462.73,193.72 L462.82,193.13 L462.91,192.51 L463.00,191.85 L463.09,191.17 L463.18,190.44 L463.27,189.68 L463.36,188.88 L463.45,188.04 L463.54,187.15 L463.63,186.21 L463.72,185.23 L463.80,184.19 L463.89,183.09 L463.98,181.93 L464.07,180.72 L464.16,179.43 L464.25,178.08 L464.34,176.67 L464.43,175.17 L464.52,173.61 L464.61,171.97 L464.70,170.26 L464.79,168.47 L464.88,166.60 L464.97,164.67 L465.05,162.67 L465.14,160.60 L465.23,158.49 L465.32,156.33 L465.41,154.14 L465.50,151.93 L465.59,149.72 L465.68,147.52 L465.77,145.36 L465.86,143.25 L465.95,141.21 L466.04,139.26 L466.13,137.43 L466.22,135.72 L466.30,134.16 L466.39,132.75 L466.48,131.50 L466.57,130.42 L466.66,129.51 L466.75,128.76 L466.84,128.18 L466.93,127.77 L467.02,127.50 L467.11,127.37 L467.20,127.37 L467.29,127.50 L467.38,127.73 L467.47,128.06 L467.55,128.48 L467.64,128.98 L467.73,129.54 L467.82,130.16 L467.91,130.83 L468.00,131.54 L468.09,132.29 L468.18,133.06 L468.27,133.86 L468.36,134.68 L468.45,135.52 L468.54,136.36 L468.63,137.22 L468.72,138.07 L468.80,138.93 L468.89,139.80 L468.98,140.66 L469.07,141.51 L469.16,142.37 L469.25,143.22 L469.34,144.06 L469.43,144.90 L469.52,145.72 L469.61,146.55 L469.70,147.36 L469.79,148.16 L469.88,148.96 L469.97,149.74 L470.05,150.52 L470.14,151.29 L470.23,152.05 L470.32,152.80 L470.41,153.54 L470.50,154.27 L470.59,155.00 L470.68,155.71 L470.77,156.42 L470.86,157.12 L470.95,157.81 L471.04,158.49 L471.13,159.16 L471.22,159.83 L471.30,160.49 L471.39,161.14 L471.48,161.79 L471.57,162.43 L471.66,163.06 L471.75,163.72 L471.84,164.39 L471.93,165.08 L472.02,165.79 L472.11,166.51 L472.20,167.23 L472.29,167.97 L472.38,168.71 L472.47,169.45 L472.55,170.20 L472.64,170.96 L472.73,171.71 L472.82,172.46 L472.91,173.22 L473.00,173.97 L473.09,174.72 L473.18,175.46 L473.27,176.21 L473.36,176.95 L473.45,177.69 L473.54,178.42 L473.63,179.15 L473.72,179.87 L473.80,180.59 L473.89,181.31 L473.98,182.02 L474.07,182.72 L474.16,183.42 L474.25,184.11 L474.34,184.80 L474.43,185.48 L474.52,186.16 L474.61,186.83 L474.70,187.50 L474.79,188.16 L474.88,188.81 L474.97,189.45 L475.05,190.09 L475.14,190.71 L475.23,191.33 L475.32,191.94 L475.41,192.53 L475.50,193.11 L475.59,193.67 L475.68,194.21 L475.77,194.74 L475.86,195.24 L475.95,195.73 L476.04,196.20 L476.13,196.67 L476.21,197.13 L476.30,197.57 L476.39,198.00 L476.48,198.41 L476.57,198.81 L476.66,199.19 L476.75,199.56 L476.84,199.91 L476.93,200.24 L477.02,200.56 L477.11,200.86 L477.20,201.14 L477.29,201.41 L477.38,201.67 L477.46,201.91 L477.55,202.14 L477.64,202.36 L477.73,202.56 L477.82,202.76 L477.91,202.95 L478.00,203.13 L478.09,203.29 L478.18,203.46 L478.27,203.61 L478.36,203.76 L478.45,203.90 L478.54,204.03 L478.63,204.16 L478.71,204.28 L478.80,204.40 L478.89,204.51 L478.98,204.62 L479.07,204.73 L479.16,204.83 L479.25,204.92 L479.34,205.02 L479.43,205.11 L479.52,205.20 L479.61,205.28 L479.70,205.36 L479.79,205.44 L479.88,205.52 L479.96,205.59 L480.05,205.66 L480.14,205.73 L480.23,205.80 L480.32,205.86 L480.41,205.93 L480.50,205.99 L480.59,206.05 L480.68,206.10 L480.77,206.16 L480.86,206.22 L480.95,206.27 L481.04,206.32 L481.13,206.37 L481.21,206.42 L481.30,206.47 L481.39,206.52 L481.48,206.56 L481.57,206.61 L481.66,206.65 L481.75,206.70 L481.84,206.74 L481.93,206.78 L482.02,206.82 L482.11,206.86 L482.20,206.90 L482.29,206.93 L482.38,206.97 L482.46,207.01 L482.55,207.04 L482.64,207.08 L482.73,207.11 L482.82,207.14 L482.91,207.18 L483.00,207.21 L483.09,207.24 L483.18,207.27 L483.27,207.30 L483.36,207.33 L483.45,207.36 L483.54,207.39 L483.63,207.41 L483.71,207.44 L483.80,207.47 L483.89,207.50 L483.98,207.52 L484.07,207.55 L484.16,207.57 L484.25,207.60 L484.34,207.62 L484.43,207.65 L484.52,207.67 L484.61,207.69 L484.70,207.72 L484.79,207.74 L484.88,207.76 L484.96,207.78 L485.05,207.80 L485.14,207.82 L485.23,207.85 L485.32,207.87 L485.41,207.89 L485.50,207.91 L485.59,207.93 L485.68,207.94 L485.77,207.96 L485.86,207.98 L485.95,208.00 L486.04,208.02 L486.13,208.04 L486.21,208.05 L486.30,208.07 L486.39,208.09 L486.48,208.11 L486.57,208.12 L486.66,208.14 L486.75,208.16 L486.84,208.17 L486.93,208.19 L487.02,208.20 L487.11,208.22 L487.20,208.23 L487.29,208.25 L487.38,208.26 L487.46,208.28 L487.55,208.29 L487.64,208.31 L487.73,208.32 L487.82,208.34 L487.91,208.35 L488.00,208.36 L488.09,208.38 L488.18,208.39 L488.27,208.40 L488.36,208.42 L488.45,208.43 L488.54,208.44 L488.63,208.45 L488.71,208.47 L488.80,208.48 L488.89,208.49 L488.98,208.50 L489.07,208.51 L489.16,208.53 L489.25,208.54 L489.34,208.55 L489.43,208.56 L489.52,208.57 L489.61,208.58 L489.70,208.59 L489.79,208.60 L489.88,208.62 L489.96,208.63 L490.05,208.64 L490.14,208.65 L490.23,208.66 L490.32,208.67 L490.41,208.68 L490.50,208.69 L490.59,208.70 L490.68,208.71 L490.77,208.72 L490.86,208.73 L490.95,208.74 L491.04,208.74 L491.13,208.75 L491.21,208.76 L491.30,208.77 L491.39,208.78 L491.48,208.79 L491.57,208.80 L491.66,208.81 L491.75,208.82 L491.84,208.82 L491.93,208.83 L492.02,208.84 L492.11,208.85 L492.20,208.86 L492.29,208.87 L492.38,208.87 L492.46,208.88 L492.55,208.89 L492.64,208.90 L492.73,208.91 L492.82,208.91 L492.91,208.92 L493.00,208.93 L494.12,209.02 L495.25,209.10 L496.37,209.17 L497.49,209.24 L498.62,209.30 L499.74,209.35 L500.86,209.40 L501.99,209.45 L503.11,209.49 L504.24,209.53 L505.36,209.56 L506.48,209.60 L507.61,209.63 L508.73,209.66 L509.85,209.68 L510.98,209.71 L512.10,209.73" stroke="#ff1f1f" stroke-width="1.35" fill="none" stroke-linecap="round" stroke-dasharray="0.2 2.0"/>
<path d="M421.39,210.32 L422.30,210.32 L423.20,210.32 L424.11,210.32 L425.02,210.32 L425.92,210.32 L426.83,210.31 L427.74,210.31 L428.64,210.31 L429.55,210.31 L430.46,210.30 L431.36,210.30 L432.27,210.30 L433.17,210.30 L434.08,210.29 L434.99,210.29 L435.89,210.28 L436.80,210.28 L437.71,210.28 L438.61,210.27 L439.52,210.27 L439.61,210.26 L439.70,210.26 L439.79,210.26 L439.88,210.26 L439.97,210.26 L440.06,210.26 L440.14,210.26 L440.23,210.26 L440.32,210.26 L440.41,210.26 L440.50,210.26 L440.59,210.26 L440.68,210.26 L440.77,210.26 L440.86,210.26 L440.95,210.26 L441.04,210.25 L441.13,210.25 L441.22,210.25 L441.31,210.25 L441.39,210.25 L441.48,210.25 L441.57,210.25 L441.66,210.25 L441.75,210.25 L441.84,210.25 L441.93,210.25 L442.02,210.25 L442.11,210.25 L442.20,210.25 L442.29,210.24 L442.38,210.24 L442.47,210.24 L442.56,210.24 L442.64,210.24 L442.73,210.24 L442.82,210.24 L442.91,210.24 L443.00,210.24 L443.09,210.24 L443.18,210.24 L443.27,210.24 L443.36,210.24 L443.45,210.23 L443.54,210.23 L443.63,210.23 L443.72,210.23 L443.81,210.23 L443.89,210.23 L443.98,210.23 L444.07,210.23 L444.16,210.23 L444.25,210.23 L444.34,210.23 L444.43,210.22 L444.52,210.22 L444.61,210.22 L444.70,210.22 L444.79,210.22 L444.88,210.22 L444.97,210.22 L445.06,210.22 L445.14,210.22 L445.23,210.22 L445.32,210.21 L445.41,210.21 L445.50,210.21 L445.59,210.21 L445.68,210.21 L445.77,210.21 L445.86,210.21 L445.95,210.21 L446.04,210.21 L446.13,210.20 L446.22,210.20 L446.31,210.20 L446.39,210.20 L446.48,210.20 L446.57,210.20 L446.66,210.20 L446.75,210.20 L446.84,210.19 L446.93,210.19 L447.02,210.19 L447.11,210.19 L447.20,210.19 L447.29,210.19 L447.38,210.19 L447.47,210.19 L447.56,210.18 L447.64,210.18 L447.73,210.18 L447.82,210.18 L447.91,210.18 L448.00,210.18 L448.09,210.18 L448.18,210.17 L448.27,210.17 L448.36,210.17 L448.45,210.17 L448.54,210.17 L448.63,210.17 L448.72,210.16 L448.81,210.16 L448.89,210.16 L448.98,210.16 L449.07,210.16 L449.16,210.16 L449.25,210.15 L449.34,210.15 L449.43,210.15 L449.52,210.15 L449.61,210.15 L449.70,210.15 L449.79,210.14 L449.88,210.14 L449.97,210.14 L450.06,210.14 L450.14,210.14 L450.23,210.13 L450.32,210.13 L450.41,210.13 L450.50,210.13 L450.59,210.13 L450.68,210.12 L450.77,210.12 L450.86,210.12 L450.95,210.12 L451.04,210.11 L451.13,210.11 L451.22,210.11 L451.31,210.11 L451.39,210.11 L451.48,210.10 L451.57,210.10 L451.66,210.10 L451.75,210.10 L451.84,210.09 L451.93,210.09 L452.02,210.09 L452.11,210.09 L452.20,210.08 L452.29,210.08 L452.38,210.08 L452.47,210.07 L452.56,210.07 L452.64,210.07 L452.73,210.07 L452.82,210.06 L452.91,210.06 L453.00,210.06 L453.09,210.05 L453.18,210.05 L453.27,210.05 L453.36,210.04 L453.45,210.04 L453.54,210.04 L453.63,210.03 L453.72,210.03 L453.81,210.03 L453.89,210.02 L453.98,210.02 L454.07,210.02 L454.16,210.01 L454.25,210.01 L454.34,210.01 L454.43,210.00 L454.52,210.00 L454.61,209.99 L454.70,209.99 L454.79,209.99 L454.88,209.98 L454.97,209.98 L455.06,209.97 L455.14,209.97 L455.23,209.97 L455.32,209.96 L455.41,209.96 L455.50,209.95 L455.59,209.95 L455.68,209.94 L455.77,209.94 L455.86,209.93 L455.95,209.93 L456.04,209.92 L456.13,209.92 L456.22,209.91 L456.31,209.91 L456.39,209.90 L456.48,209.89 L456.57,209.89 L456.66,209.88 L456.75,209.88 L456.84,209.87 L456.93,209.87 L457.02,209.86 L457.11,209.85 L457.20,209.85 L457.29,209.84 L457.38,209.83 L457.47,209.83 L457.55,209.82 L457.64,209.81 L457.73,209.80 L457.82,209.80 L457.91,209.79 L458.00,209.78 L458.09,209.77 L458.18,209.77 L458.27,209.76 L458.36,209.75 L458.45,209.74 L458.54,209.73 L458.63,209.72 L458.72,209.71 L458.80,209.71 L458.89,209.70 L458.98,209.69 L459.07,209.68 L459.16,209.67 L459.25,209.66 L459.34,209.65 L459.43,209.64 L459.52,209.62 L459.61,209.61 L459.70,209.60 L459.79,209.59 L459.88,209.58 L459.97,209.57 L460.05,209.55 L460.14,209.54 L460.23,209.53 L460.32,209.51 L460.41,209.50 L460.50,209.49 L460.59,209.47 L460.68,209.46 L460.77,209.44 L460.86,209.43 L460.95,209.41 L461.04,209.39 L461.13,209.38 L461.22,209.36 L461.30,209.34 L461.39,209.33 L461.48,209.31 L461.57,209.29 L461.66,209.27 L461.75,209.25 L461.84,209.23 L461.93,209.21 L462.02,209.18 L462.11,209.16 L462.20,209.14 L462.29,209.12 L462.38,209.09 L462.47,209.07 L462.55,209.04 L462.64,209.01 L462.73,208.99 L462.82,208.96 L462.91,208.93 L463.00,208.90 L463.09,208.87 L463.18,208.84 L463.27,208.80 L463.36,208.77 L463.45,208.74 L463.54,208.70 L463.63,208.66 L463.72,208.62 L463.80,208.58 L463.89,208.54 L463.98,208.50 L464.07,208.46 L464.16,208.41 L464.25,208.36 L464.34,208.31 L464.43,208.26 L464.52,208.21 L464.61,208.15 L464.70,208.10 L464.79,208.04 L464.88,207.98 L464.97,207.91 L465.05,207.85 L465.14,207.78 L465.23,207.71 L465.32,207.63 L465.41,207.55 L465.50,207.47 L465.59,207.38 L465.68,207.30 L465.77,207.20 L465.86,207.10 L465.95,207.00 L466.04,206.90 L466.13,206.78 L466.22,206.67 L466.30,206.54 L466.39,206.41 L466.48,206.28 L466.57,206.14 L466.66,205.99 L466.75,205.83 L466.84,205.66 L466.93,205.49 L467.02,205.30 L467.11,205.10 L467.20,204.90 L467.29,204.68 L467.38,204.44 L467.47,204.20 L467.55,203.94 L467.64,203.66 L467.73,203.36 L467.82,203.05 L467.91,202.71 L468.00,202.35 L468.09,201.97 L468.18,201.57 L468.27,201.13 L468.36,200.66 L468.45,200.17 L468.54,199.63 L468.63,199.06 L468.72,198.45 L468.80,197.80 L468.89,197.10 L468.98,196.35 L469.07,195.55 L469.16,194.69 L469.25,193.78 L469.34,192.82 L469.43,191.79 L469.52,190.71 L469.61,189.57 L469.70,188.39 L469.79,187.16 L469.88,185.90 L469.97,184.61 L470.05,183.32 L470.14,182.03 L470.23,180.77 L470.32,179.56 L470.41,178.42 L470.50,177.36 L470.59,176.40 L470.68,175.56 L470.77,174.84 L470.86,174.25 L470.95,173.79 L471.04,173.46 L471.13,173.25 L471.22,173.15 L471.30,173.16 L471.39,173.25 L471.48,173.54 L471.57,173.93 L471.66,174.31 L471.75,174.70 L471.84,175.08 L471.93,175.47 L472.02,175.86 L472.11,176.26 L472.20,176.65 L472.29,177.10 L472.38,177.61 L472.47,178.12 L472.55,178.64 L472.64,179.16 L472.73,179.67 L472.82,180.18 L472.91,180.69 L473.00,181.19 L473.09,181.69 L473.18,182.18 L473.27,182.66 L473.36,183.13 L473.45,183.60 L473.54,184.07 L473.63,184.52 L473.72,184.97 L473.80,185.41 L473.89,185.84 L473.98,186.27 L474.07,186.69 L474.16,187.11 L474.25,187.51 L474.34,187.92 L474.43,188.31 L474.52,188.70 L474.61,189.09 L474.70,189.47 L474.79,189.84 L474.88,190.21 L474.97,190.58 L475.05,190.94 L475.14,191.29 L475.23,191.76 L475.32,192.26 L475.41,192.76 L475.50,193.26 L475.59,193.76 L475.68,194.26 L475.77,194.76 L475.86,195.25 L475.95,195.73 L476.04,196.20 L476.13,196.67 L476.21,197.13 L476.30,197.57 L476.39,198.00 L476.48,198.41 L476.57,198.81 L476.66,199.19 L476.75,199.56 L476.84,199.91 L476.93,200.24 L477.02,200.56 L477.11,200.86 L477.20,201.14 L477.29,201.41 L477.38,201.67 L477.46,201.91 L477.55,202.14 L477.64,202.36 L477.73,202.56 L477.82,202.76 L477.91,202.95 L478.00,203.13 L478.09,203.29 L478.18,203.46 L478.27,203.61 L478.36,203.76 L478.45,203.90 L478.54,204.03 L478.63,204.16 L478.71,204.28 L478.80,204.40 L478.89,204.51 L478.98,204.62 L479.07,204.73 L479.16,204.83 L479.25,205.04 L479.34,205.24 L479.43,205.44 L479.52,205.63 L479.61,205.81 L479.70,205.98 L479.79,206.14 L479.88,206.29 L479.96,206.43 L480.05,206.57 L480.14,206.70 L480.23,206.82 L480.32,206.94 L480.41,207.05 L480.50,207.15 L480.59,207.25 L480.68,207.35 L480.77,207.44 L480.86,207.52 L480.95,207.60 L481.04,207.68 L481.13,207.76 L481.21,207.83 L481.30,207.89 L481.39,207.96 L481.48,208.02 L481.57,208.08 L481.66,208.13 L481.75,208.19 L481.84,208.24 L481.93,208.29 L482.02,208.34 L482.11,208.39 L482.20,208.43 L482.29,208.47 L482.38,208.51 L482.46,208.55 L482.55,208.59 L482.64,208.63 L482.73,208.66 L482.82,208.70 L482.91,208.73 L483.00,208.76 L483.09,208.80 L483.18,208.83 L483.27,208.86 L483.36,208.88 L483.45,208.91 L483.54,208.94 L483.63,208.96 L483.71,208.99 L483.80,209.01 L483.89,209.04 L483.98,209.06 L484.07,209.08 L484.16,209.10 L484.25,209.12 L484.34,209.14 L484.43,209.16 L484.52,209.18 L484.61,209.20 L484.70,209.22 L484.79,209.24 L484.88,209.26 L484.96,209.27 L485.05,209.29 L485.14,209.31 L485.23,209.32 L485.32,209.34 L485.41,209.35 L485.50,209.37 L485.59,209.38 L485.68,209.40 L485.77,209.41 L485.86,209.42 L485.95,209.44 L486.04,209.45 L486.13,209.46 L486.21,209.47 L486.30,209.48 L486.39,209.50 L486.48,209.51 L486.57,209.52 L486.66,209.53 L486.75,209.54 L486.84,209.55 L486.93,209.56 L487.02,209.57 L487.11,209.58 L487.20,209.59 L487.29,209.60 L487.38,209.61 L487.46,209.62 L487.55,209.63 L487.64,209.64 L487.73,209.64 L487.82,209.65 L487.91,209.66 L488.00,209.67 L488.09,209.68 L488.18,209.69 L488.27,209.69 L488.36,209.70 L488.45,209.71 L488.54,209.71 L488.63,209.72 L488.71,209.73 L488.80,209.74 L488.89,209.74 L488.98,209.75 L489.07,209.76 L489.16,209.76 L489.25,209.77 L489.34,209.77 L489.43,209.78 L489.52,209.79 L489.61,209.79 L489.70,209.80 L489.79,209.80 L489.88,209.81 L489.96,209.82 L490.05,209.82 L490.14,209.83 L490.23,209.83 L490.32,209.84 L490.41,209.84 L490.50,209.85 L490.59,209.85 L490.68,209.86 L490.77,209.86 L490.86,209.87 L490.95,209.87 L491.04,209.87 L491.13,209.88 L491.21,209.88 L491.30,209.89 L491.39,209.89 L491.48,209.90 L491.57,209.90 L491.66,209.90 L491.75,209.91 L491.84,209.91 L491.93,209.92 L492.02,209.92 L492.11,209.92 L492.20,209.93 L492.29,209.93 L492.38,209.94 L492.46,209.94 L492.55,209.94 L492.64,209.95 L492.73,209.95 L492.82,209.95 L492.91,209.96 L493.00,209.96 L494.12,210.00 L495.25,210.03 L496.37,210.06 L497.49,210.08 L498.62,210.10 L499.74,210.12 L500.86,210.14 L501.99,210.15 L503.11,210.17 L504.24,210.18 L505.36,210.19 L506.48,210.20 L507.61,210.21 L508.73,210.22 L509.85,210.22 L510.98,210.23 L512.10,210.24" stroke="#1a1aff" stroke-width="1.5" fill="none" stroke-dasharray="3.6 1.3"/></g>
<g class="t">
<text x="31.3" y="209.00" text-anchor="end">0</text>
<text x="31.3" y="159.10" text-anchor="end">2</text>
<text x="31.3" y="109.00" text-anchor="end">4</text>
<text x="31.3" y="57.05" text-anchor="end">6</text>
<text x="31.3" y="9.25" text-anchor="end">8</text>
<text x="37.00" y="221.4" text-anchor="middle">0</text>
<text x="89.40" y="221.4" text-anchor="middle">2</text>
<text x="141.80" y="221.4" text-anchor="middle">4</text>
<text x="194.20" y="221.4" text-anchor="middle">6</text>
<text x="246.60" y="221.4" text-anchor="middle">8</text>
<text x="299.00" y="221.4" text-anchor="middle">10</text>
<text x="353.0" y="214.40" text-anchor="end">0</text>
<text x="353.0" y="163.30" text-anchor="end">2</text>
<text x="353.0" y="111.20" text-anchor="end">4</text>
<text x="353.0" y="59.70" text-anchor="end">6</text>
<text x="353.0" y="10.85" text-anchor="end">8</text>
<text x="359.30" y="225.1" text-anchor="middle">0</text>
<text x="412.78" y="225.1" text-anchor="middle">2</text>
<text x="466.26" y="225.1" text-anchor="middle">4</text>
<text x="519.74" y="225.1" text-anchor="middle">6</text>
<text x="573.22" y="225.1" text-anchor="middle">8</text>
<text x="627.20" y="225.1" text-anchor="middle">10</text>
</g>
<text transform="translate(102.35,244.60) scale(0.975,1)" style="font-family:'Liberation Sans',sans-serif;font-weight:bold;font-size:11.50px" fill="#000">Frequency</text>
<text transform="translate(162.53,244.60) scale(1.000,1)" style="font-family:'Liberation Serif',serif;font-weight:bold;font-size:14.00px" fill="#000">ω</text>
<text transform="translate(176.64,244.60) scale(0.975,1)" style="font-family:'Liberation Sans',sans-serif;font-weight:bold;font-size:11.50px" fill="#000">(</text>
<text transform="translate(180.49,244.60) scale(0.975,1)" style="font-family:'Liberation Sans',sans-serif;font-weight:bold;font-size:11.50px" fill="#000">10</text>
<text transform="translate(192.52,240.40) scale(0.975,1)" style="font-family:'Liberation Sans',sans-serif;font-weight:bold;font-size:9.50px" fill="#000">15</text>
<text transform="translate(204.45,244.60) scale(0.975,1)" style="font-family:'Liberation Sans',sans-serif;font-weight:bold;font-size:11.50px" fill="#000">Hz)</text>
<text transform="translate(427.65,245.10) scale(0.975,1)" style="font-family:'Liberation Sans',sans-serif;font-weight:bold;font-size:11.50px" fill="#000">Frequency</text>
<text transform="translate(487.83,245.10) scale(1.000,1)" style="font-family:'Liberation Serif',serif;font-weight:bold;font-size:14.00px" fill="#000">ω</text>
<text transform="translate(501.94,245.10) scale(0.975,1)" style="font-family:'Liberation Sans',sans-serif;font-weight:bold;font-size:11.50px" fill="#000">(</text>
<text transform="translate(505.79,245.10) scale(0.975,1)" style="font-family:'Liberation Sans',sans-serif;font-weight:bold;font-size:11.50px" fill="#000">10</text>
<text transform="translate(517.82,240.90) scale(0.975,1)" style="font-family:'Liberation Sans',sans-serif;font-weight:bold;font-size:9.50px" fill="#000">15</text>
<text transform="translate(529.75,245.10) scale(0.975,1)" style="font-family:'Liberation Sans',sans-serif;font-weight:bold;font-size:11.50px" fill="#000">Hz)</text>
<g transform="translate(12.10,137.50) rotate(-90)">
<text transform="translate(-0.58,0.00) scale(0.975,1)" style="font-family:'Liberation Sans',sans-serif;font-weight:bold;font-size:11.50px" fill="#000">k</text>
<text transform="translate(6.65,3.90) scale(0.975,1)" style="font-family:'Liberation Sans',sans-serif;font-weight:bold;font-size:9.00px" fill="#000">1</text>
<text transform="translate(12.54,0.00) scale(0.975,1)" style="font-family:'Liberation Sans',sans-serif;font-weight:bold;font-size:11.50px" fill="#000">(</text>
<text transform="translate(15.69,0.00) scale(0.975,1)" style="font-family:'Liberation Sans',sans-serif;font-weight:bold;font-size:11.50px" fill="#000">10</text>
<text transform="translate(28.22,-4.20) scale(0.975,1)" style="font-family:'Liberation Sans',sans-serif;font-weight:bold;font-size:9.00px" fill="#000">7</text>
<text transform="translate(36.16,0.00) scale(0.975,1)" style="font-family:'Liberation Sans',sans-serif;font-weight:bold;font-size:11.50px" fill="#000">m</text>
<text transform="translate(47.06,-4.20) scale(0.975,1)" style="font-family:'Liberation Sans',sans-serif;font-weight:bold;font-size:9.00px" fill="#000">-1</text>
<text transform="translate(55.49,0.00) scale(0.975,1)" style="font-family:'Liberation Sans',sans-serif;font-weight:bold;font-size:11.50px" fill="#000">)</text>
</g>
<g transform="translate(333.50,140.80) rotate(-90)">
<text transform="translate(-0.58,0.00) scale(0.975,1)" style="font-family:'Liberation Sans',sans-serif;font-weight:bold;font-size:11.50px" fill="#000">k</text>
<text transform="translate(8.10,3.90) scale(0.975,1)" style="font-family:'Liberation Sans',sans-serif;font-weight:bold;font-size:9.00px" fill="#000">2</text>
<text transform="translate(12.54,0.00) scale(0.975,1)" style="font-family:'Liberation Sans',sans-serif;font-weight:bold;font-size:11.50px" fill="#000">(</text>
<text transform="translate(15.69,0.00) scale(0.975,1)" style="font-family:'Liberation Sans',sans-serif;font-weight:bold;font-size:11.50px" fill="#000">10</text>
<text transform="translate(28.22,-4.20) scale(0.975,1)" style="font-family:'Liberation Sans',sans-serif;font-weight:bold;font-size:9.00px" fill="#000">7</text>
<text transform="translate(36.16,0.00) scale(0.975,1)" style="font-family:'Liberation Sans',sans-serif;font-weight:bold;font-size:11.50px" fill="#000">m</text>
<text transform="translate(47.06,-4.20) scale(0.975,1)" style="font-family:'Liberation Sans',sans-serif;font-weight:bold;font-size:9.00px" fill="#000">-1</text>
<text transform="translate(55.49,0.00) scale(0.975,1)" style="font-family:'Liberation Sans',sans-serif;font-weight:bold;font-size:11.50px" fill="#000">)</text>
</g>
<text transform="translate(63.37,33.30) scale(0.975,1)" style="font-family:'Liberation Sans',sans-serif;font-weight:bold;font-size:11.00px" fill="#000">(a)</text>
<text transform="translate(389.07,30.50) scale(0.975,1)" style="font-family:'Liberation Sans',sans-serif;font-weight:bold;font-size:11.00px" fill="#000">(b)</text>
<text transform="translate(277.17,73.30) scale(1.000,1)" style="font-family:'Liberation Sans',sans-serif;font-weight:normal;font-size:10.50px" fill="#000">C</text>
<text transform="translate(277.44,116.30) scale(1.000,1)" style="font-family:'Liberation Sans',sans-serif;font-weight:normal;font-size:10.50px" fill="#ff2020">B</text>
<text transform="translate(277.18,148.50) scale(1.000,1)" style="font-family:'Liberation Sans',sans-serif;font-weight:normal;font-size:10.50px" fill="#2020ff">A</text>
<text transform="translate(438.47,80.30) scale(1.000,1)" style="font-family:'Liberation Sans',sans-serif;font-weight:normal;font-size:10.50px" fill="#000">C</text>
<text transform="translate(453.54,156.10) scale(1.000,1)" style="font-family:'Liberation Sans',sans-serif;font-weight:normal;font-size:10.50px" fill="#ff2020">B</text>
<text transform="translate(463.08,183.90) scale(1.000,1)" style="font-family:'Liberation Sans',sans-serif;font-weight:normal;font-size:10.50px" fill="#2020ff">A</text>
</svg></body></html>
